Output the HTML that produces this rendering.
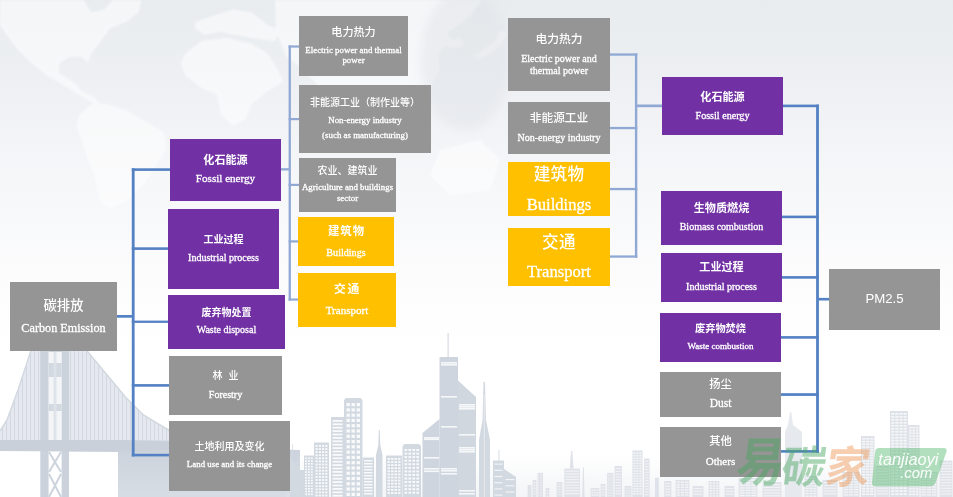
<!DOCTYPE html>
<html lang="zh-CN">
<head>
<meta charset="utf-8">
<title>碳排放 Carbon Emission / PM2.5</title>
<style>
html,body{margin:0;padding:0;}
body{width:953px;height:497px;overflow:hidden;background:#fff;position:relative;}
#stage{position:absolute;left:0;top:0;width:953px;height:497px;overflow:hidden;}
#bg{position:absolute;left:0;top:0;width:953px;height:497px;}
.b{position:absolute;}
.l{position:absolute;}
.t{position:absolute;color:#fff;text-align:center;white-space:nowrap;line-height:20px;height:20px;}
.cn{font-family:"Liberation Sans","Noto Sans CJK SC",sans-serif;font-weight:500;}
.en{font-family:"Liberation Serif","Noto Serif CJK SC",serif;-webkit-text-stroke:0.3px #fff;}
.sans{font-family:"Liberation Sans","Noto Sans CJK SC",sans-serif;}
.bold{font-weight:bold;}
</style>
</head>
<body>
<div id="stage">
<svg id="bg" width="953" height="497" viewBox="0 0 953 497">
<defs>
<linearGradient id="g1" x1="0" y1="0" x2="0" y2="1">
<stop offset="0" stop-color="#e8ecef"/>
<stop offset="0.2" stop-color="#eff1f4"/>
<stop offset="0.36" stop-color="#f6f7f9"/>
<stop offset="0.55" stop-color="#fcfcfd"/>
<stop offset="0.7" stop-color="#ffffff"/>
<stop offset="1" stop-color="#ffffff"/>
</linearGradient>
<linearGradient id="mapfade" x1="0" y1="0" x2="0" y2="1">
<stop offset="0" stop-color="#fff" stop-opacity="1"/>
<stop offset="0.7" stop-color="#fff" stop-opacity="1"/>
<stop offset="1" stop-color="#fff" stop-opacity="0"/>
</linearGradient>
<filter id="b1" x="-10%" y="-10%" width="120%" height="120%"><feGaussianBlur stdDeviation="1.2"/></filter>
<filter id="b2" x="-10%" y="-10%" width="120%" height="120%"><feGaussianBlur stdDeviation="0.6"/></filter>
<filter id="b3" x="-10%" y="-10%" width="120%" height="120%"><feGaussianBlur stdDeviation="4"/></filter>
<linearGradient id="haze" x1="0" y1="0" x2="0" y2="1">
<stop offset="0" stop-color="#c9d0da" stop-opacity="0.95"/>
<stop offset="1" stop-color="#d3d9e1" stop-opacity="0.9"/>
</linearGradient>
</defs>
<rect x="0" y="0" width="953" height="497" fill="url(#g1)"/>
<g filter="url(#b1)" fill="#ffffff" opacity="0.55">
<polygon points="0.0,0.0 83.4,0.0 91.3,12.6 103.9,9.4 113.3,0.0 141.6,0.0 138.5,12.6 125.9,22.0 110.2,28.3 100.7,40.9 91.3,53.5 88.1,63.0 81.8,56.7 69.2,56.7 59.8,63.0 58.2,72.4 67.7,78.7 75.5,83.4 81.8,91.3 94.4,97.6 100.7,103.9 94.4,103.9 78.7,94.4 63.0,85.0 47.2,75.5 31.5,63.0 18.9,50.4 6.3,34.6 0.0,25.2"/>
<polygon points="78.7,116.5 91.3,103.9 107.0,103.9 125.9,110.2 141.6,119.6 163.7,132.2 166.8,147.9 157.4,163.7 144.8,182.6 125.9,201.4 110.2,207.7 100.7,201.4 94.4,176.3 85.0,151.1 77.1,125.9"/>
<polygon points="195.2,22.0 214.0,15.7 232.9,9.4 251.8,12.6 267.5,25.2 283.3,31.5 273.8,40.9 251.8,37.8 232.9,34.6 220.3,31.5 204.6,34.6 195.2,28.3"/>
<polygon points="185.7,53.5 201.4,40.9 226.6,37.8 251.8,44.1 267.5,53.5 277.0,69.2 283.3,81.8 267.5,91.3 251.8,103.9 245.5,119.6 232.9,125.9 220.3,113.3 217.2,94.4 201.4,88.1 185.7,75.5 181.0,63.0"/>
<polygon points="275,0 481,0 472,14 458,26 447,33 452,40 461,38 463,46 455,48 444,46 438,56 440,70 432,84 424,100 418,118 410,126 400,110 392,96 380,100 372,120 364,128 352,104 340,92 322,90 304,70 286,56 276,30"/>
<polygon points="500,30 506,34 500,46 490,54 478,60 474,56 486,48 496,40"/>
<polygon points="440,150 480,140 500,160 490,190 450,195 430,175"/>
</g>
<ellipse cx="465" cy="60" rx="45" ry="70" fill="#dfe3e8" opacity="0.45" filter="url(#b3)"/>
<g filter="url(#b2)">
<polygon points="118.0,452.0 170.0,447.0 300.0,450.0 300.0,497.0 118.0,497.0" fill="url(#haze)"/>
<linearGradient id="hz2" x1="0" y1="0" x2="0" y2="1"><stop offset="0" stop-color="#dfe4ea" stop-opacity="0"/><stop offset="1" stop-color="#dfe4ea" stop-opacity="0.4"/></linearGradient>
<rect x="286" y="455" width="667" height="42" fill="url(#hz2)"/>
<rect x="527.6" y="485.0" width="3.8" height="12.0" fill="#dfe3e9"/>
<rect x="528.6" y="486.5" width="-0.0" height="1.4" fill="#fff" opacity="0.6"/>
<rect x="529.5" y="486.5" width="-0.0" height="1.4" fill="#fff" opacity="0.6"/>
<rect x="530.4" y="486.5" width="-0.0" height="1.4" fill="#fff" opacity="0.6"/>
<rect x="528.6" y="489.1" width="-0.0" height="1.4" fill="#fff" opacity="0.6"/>
<rect x="529.5" y="489.1" width="-0.0" height="1.4" fill="#fff" opacity="0.6"/>
<rect x="530.4" y="489.1" width="-0.0" height="1.4" fill="#fff" opacity="0.6"/>
<rect x="528.6" y="491.6" width="-0.0" height="1.4" fill="#fff" opacity="0.6"/>
<rect x="529.5" y="491.6" width="-0.0" height="1.4" fill="#fff" opacity="0.6"/>
<rect x="530.4" y="491.6" width="-0.0" height="1.4" fill="#fff" opacity="0.6"/>
<rect x="528.6" y="494.2" width="-0.0" height="1.4" fill="#fff" opacity="0.6"/>
<rect x="529.5" y="494.2" width="-0.0" height="1.4" fill="#fff" opacity="0.6"/>
<rect x="530.4" y="494.2" width="-0.0" height="1.4" fill="#fff" opacity="0.6"/>
<rect x="532.6" y="480.0" width="3.8" height="17.0" fill="#dfe3e9"/>
<rect x="533.6" y="482.0" width="1.8" height="1.2" fill="#fff" opacity="0.55"/>
<rect x="533.6" y="484.8" width="1.8" height="1.2" fill="#fff" opacity="0.55"/>
<rect x="533.6" y="487.6" width="1.8" height="1.2" fill="#fff" opacity="0.55"/>
<rect x="533.6" y="490.4" width="1.8" height="1.2" fill="#fff" opacity="0.55"/>
<rect x="533.6" y="493.2" width="1.8" height="1.2" fill="#fff" opacity="0.55"/>
<rect x="537.6" y="472.8" width="5.4" height="24.2" fill="#dfe3e9"/>
<rect x="538.6" y="474.3" width="0.5" height="1.4" fill="#fff" opacity="0.6"/>
<rect x="540.0" y="474.3" width="0.5" height="1.4" fill="#fff" opacity="0.6"/>
<rect x="541.5" y="474.3" width="0.5" height="1.4" fill="#fff" opacity="0.6"/>
<rect x="538.6" y="476.9" width="0.5" height="1.4" fill="#fff" opacity="0.6"/>
<rect x="540.0" y="476.9" width="0.5" height="1.4" fill="#fff" opacity="0.6"/>
<rect x="541.5" y="476.9" width="0.5" height="1.4" fill="#fff" opacity="0.6"/>
<rect x="538.6" y="479.4" width="0.5" height="1.4" fill="#fff" opacity="0.6"/>
<rect x="540.0" y="479.4" width="0.5" height="1.4" fill="#fff" opacity="0.6"/>
<rect x="541.5" y="479.4" width="0.5" height="1.4" fill="#fff" opacity="0.6"/>
<rect x="538.6" y="482.0" width="0.5" height="1.4" fill="#fff" opacity="0.6"/>
<rect x="540.0" y="482.0" width="0.5" height="1.4" fill="#fff" opacity="0.6"/>
<rect x="541.5" y="482.0" width="0.5" height="1.4" fill="#fff" opacity="0.6"/>
<rect x="538.6" y="484.6" width="0.5" height="1.4" fill="#fff" opacity="0.6"/>
<rect x="540.0" y="484.6" width="0.5" height="1.4" fill="#fff" opacity="0.6"/>
<rect x="541.5" y="484.6" width="0.5" height="1.4" fill="#fff" opacity="0.6"/>
<rect x="538.6" y="487.1" width="0.5" height="1.4" fill="#fff" opacity="0.6"/>
<rect x="540.0" y="487.1" width="0.5" height="1.4" fill="#fff" opacity="0.6"/>
<rect x="541.5" y="487.1" width="0.5" height="1.4" fill="#fff" opacity="0.6"/>
<rect x="538.6" y="489.7" width="0.5" height="1.4" fill="#fff" opacity="0.6"/>
<rect x="540.0" y="489.7" width="0.5" height="1.4" fill="#fff" opacity="0.6"/>
<rect x="541.5" y="489.7" width="0.5" height="1.4" fill="#fff" opacity="0.6"/>
<rect x="538.6" y="492.3" width="0.5" height="1.4" fill="#fff" opacity="0.6"/>
<rect x="540.0" y="492.3" width="0.5" height="1.4" fill="#fff" opacity="0.6"/>
<rect x="541.5" y="492.3" width="0.5" height="1.4" fill="#fff" opacity="0.6"/>
<rect x="538.6" y="494.9" width="0.5" height="1.4" fill="#fff" opacity="0.6"/>
<rect x="540.0" y="494.9" width="0.5" height="1.4" fill="#fff" opacity="0.6"/>
<rect x="541.5" y="494.9" width="0.5" height="1.4" fill="#fff" opacity="0.6"/>
<rect x="545.6" y="488.0" width="3.8" height="9.0" fill="#dfe3e9"/>
<rect x="546.6" y="490.0" width="1.8" height="1.2" fill="#fff" opacity="0.55"/>
<rect x="546.6" y="492.8" width="1.8" height="1.2" fill="#fff" opacity="0.55"/>
<rect x="546.6" y="495.6" width="1.8" height="1.2" fill="#fff" opacity="0.55"/>
<rect x="556.6" y="482.0" width="5.8" height="15.0" fill="#dfe3e9"/>
<rect x="557.6" y="483.5" width="0.7" height="1.4" fill="#fff" opacity="0.6"/>
<rect x="559.2" y="483.5" width="0.7" height="1.4" fill="#fff" opacity="0.6"/>
<rect x="560.7" y="483.5" width="0.7" height="1.4" fill="#fff" opacity="0.6"/>
<rect x="557.6" y="486.1" width="0.7" height="1.4" fill="#fff" opacity="0.6"/>
<rect x="559.2" y="486.1" width="0.7" height="1.4" fill="#fff" opacity="0.6"/>
<rect x="560.7" y="486.1" width="0.7" height="1.4" fill="#fff" opacity="0.6"/>
<rect x="557.6" y="488.6" width="0.7" height="1.4" fill="#fff" opacity="0.6"/>
<rect x="559.2" y="488.6" width="0.7" height="1.4" fill="#fff" opacity="0.6"/>
<rect x="560.7" y="488.6" width="0.7" height="1.4" fill="#fff" opacity="0.6"/>
<rect x="557.6" y="491.2" width="0.7" height="1.4" fill="#fff" opacity="0.6"/>
<rect x="559.2" y="491.2" width="0.7" height="1.4" fill="#fff" opacity="0.6"/>
<rect x="560.7" y="491.2" width="0.7" height="1.4" fill="#fff" opacity="0.6"/>
<rect x="557.6" y="493.8" width="0.7" height="1.4" fill="#fff" opacity="0.6"/>
<rect x="559.2" y="493.8" width="0.7" height="1.4" fill="#fff" opacity="0.6"/>
<rect x="560.7" y="493.8" width="0.7" height="1.4" fill="#fff" opacity="0.6"/>
<rect x="564.3" y="468.6" width="15.6" height="28.4" fill="#dfe3e9"/>
<rect x="565.3" y="470.6" width="13.6" height="1.2" fill="#fff" opacity="0.55"/>
<rect x="565.3" y="473.4" width="13.6" height="1.2" fill="#fff" opacity="0.55"/>
<rect x="565.3" y="476.2" width="13.6" height="1.2" fill="#fff" opacity="0.55"/>
<rect x="565.3" y="479.0" width="13.6" height="1.2" fill="#fff" opacity="0.55"/>
<rect x="565.3" y="481.8" width="13.6" height="1.2" fill="#fff" opacity="0.55"/>
<rect x="565.3" y="484.6" width="13.6" height="1.2" fill="#fff" opacity="0.55"/>
<rect x="565.3" y="487.4" width="13.6" height="1.2" fill="#fff" opacity="0.55"/>
<rect x="565.3" y="490.2" width="13.6" height="1.2" fill="#fff" opacity="0.55"/>
<rect x="565.3" y="493.0" width="13.6" height="1.2" fill="#fff" opacity="0.55"/>
<rect x="590.6" y="488.0" width="8.8" height="9.0" fill="#dfe3e9"/>
<rect x="591.6" y="489.5" width="1.7" height="1.4" fill="#fff" opacity="0.6"/>
<rect x="594.2" y="489.5" width="1.7" height="1.4" fill="#fff" opacity="0.6"/>
<rect x="596.7" y="489.5" width="1.7" height="1.4" fill="#fff" opacity="0.6"/>
<rect x="591.6" y="492.1" width="1.7" height="1.4" fill="#fff" opacity="0.6"/>
<rect x="594.2" y="492.1" width="1.7" height="1.4" fill="#fff" opacity="0.6"/>
<rect x="596.7" y="492.1" width="1.7" height="1.4" fill="#fff" opacity="0.6"/>
<rect x="591.6" y="494.6" width="1.7" height="1.4" fill="#fff" opacity="0.6"/>
<rect x="594.2" y="494.6" width="1.7" height="1.4" fill="#fff" opacity="0.6"/>
<rect x="596.7" y="494.6" width="1.7" height="1.4" fill="#fff" opacity="0.6"/>
<rect x="600.6" y="484.0" width="4.8" height="13.0" fill="#dfe3e9"/>
<rect x="601.6" y="486.0" width="2.8" height="1.2" fill="#fff" opacity="0.55"/>
<rect x="601.6" y="488.8" width="2.8" height="1.2" fill="#fff" opacity="0.55"/>
<rect x="601.6" y="491.6" width="2.8" height="1.2" fill="#fff" opacity="0.55"/>
<rect x="601.6" y="494.4" width="2.8" height="1.2" fill="#fff" opacity="0.55"/>
<rect x="607.1" y="472.8" width="6.3" height="24.2" fill="#dfe3e9"/>
<rect x="608.1" y="474.3" width="0.8" height="1.4" fill="#fff" opacity="0.6"/>
<rect x="609.8" y="474.3" width="0.8" height="1.4" fill="#fff" opacity="0.6"/>
<rect x="611.6" y="474.3" width="0.8" height="1.4" fill="#fff" opacity="0.6"/>
<rect x="608.1" y="476.9" width="0.8" height="1.4" fill="#fff" opacity="0.6"/>
<rect x="609.8" y="476.9" width="0.8" height="1.4" fill="#fff" opacity="0.6"/>
<rect x="611.6" y="476.9" width="0.8" height="1.4" fill="#fff" opacity="0.6"/>
<rect x="608.1" y="479.4" width="0.8" height="1.4" fill="#fff" opacity="0.6"/>
<rect x="609.8" y="479.4" width="0.8" height="1.4" fill="#fff" opacity="0.6"/>
<rect x="611.6" y="479.4" width="0.8" height="1.4" fill="#fff" opacity="0.6"/>
<rect x="608.1" y="482.0" width="0.8" height="1.4" fill="#fff" opacity="0.6"/>
<rect x="609.8" y="482.0" width="0.8" height="1.4" fill="#fff" opacity="0.6"/>
<rect x="611.6" y="482.0" width="0.8" height="1.4" fill="#fff" opacity="0.6"/>
<rect x="608.1" y="484.6" width="0.8" height="1.4" fill="#fff" opacity="0.6"/>
<rect x="609.8" y="484.6" width="0.8" height="1.4" fill="#fff" opacity="0.6"/>
<rect x="611.6" y="484.6" width="0.8" height="1.4" fill="#fff" opacity="0.6"/>
<rect x="608.1" y="487.1" width="0.8" height="1.4" fill="#fff" opacity="0.6"/>
<rect x="609.8" y="487.1" width="0.8" height="1.4" fill="#fff" opacity="0.6"/>
<rect x="611.6" y="487.1" width="0.8" height="1.4" fill="#fff" opacity="0.6"/>
<rect x="608.1" y="489.7" width="0.8" height="1.4" fill="#fff" opacity="0.6"/>
<rect x="609.8" y="489.7" width="0.8" height="1.4" fill="#fff" opacity="0.6"/>
<rect x="611.6" y="489.7" width="0.8" height="1.4" fill="#fff" opacity="0.6"/>
<rect x="608.1" y="492.3" width="0.8" height="1.4" fill="#fff" opacity="0.6"/>
<rect x="609.8" y="492.3" width="0.8" height="1.4" fill="#fff" opacity="0.6"/>
<rect x="611.6" y="492.3" width="0.8" height="1.4" fill="#fff" opacity="0.6"/>
<rect x="608.1" y="494.9" width="0.8" height="1.4" fill="#fff" opacity="0.6"/>
<rect x="609.8" y="494.9" width="0.8" height="1.4" fill="#fff" opacity="0.6"/>
<rect x="611.6" y="494.9" width="0.8" height="1.4" fill="#fff" opacity="0.6"/>
<rect x="614.6" y="466.0" width="7.3" height="31.0" fill="#dfe3e9"/>
<rect x="615.6" y="468.0" width="5.3" height="1.2" fill="#fff" opacity="0.55"/>
<rect x="615.6" y="470.8" width="5.3" height="1.2" fill="#fff" opacity="0.55"/>
<rect x="615.6" y="473.6" width="5.3" height="1.2" fill="#fff" opacity="0.55"/>
<rect x="615.6" y="476.4" width="5.3" height="1.2" fill="#fff" opacity="0.55"/>
<rect x="615.6" y="479.2" width="5.3" height="1.2" fill="#fff" opacity="0.55"/>
<rect x="615.6" y="482.0" width="5.3" height="1.2" fill="#fff" opacity="0.55"/>
<rect x="615.6" y="484.8" width="5.3" height="1.2" fill="#fff" opacity="0.55"/>
<rect x="615.6" y="487.6" width="5.3" height="1.2" fill="#fff" opacity="0.55"/>
<rect x="615.6" y="490.4" width="5.3" height="1.2" fill="#fff" opacity="0.55"/>
<rect x="615.6" y="493.2" width="5.3" height="1.2" fill="#fff" opacity="0.55"/>
<rect x="624.6" y="486.0" width="6.8" height="11.0" fill="#dfe3e9"/>
<rect x="625.6" y="487.5" width="1.0" height="1.4" fill="#fff" opacity="0.6"/>
<rect x="627.5" y="487.5" width="1.0" height="1.4" fill="#fff" opacity="0.6"/>
<rect x="629.4" y="487.5" width="1.0" height="1.4" fill="#fff" opacity="0.6"/>
<rect x="625.6" y="490.1" width="1.0" height="1.4" fill="#fff" opacity="0.6"/>
<rect x="627.5" y="490.1" width="1.0" height="1.4" fill="#fff" opacity="0.6"/>
<rect x="629.4" y="490.1" width="1.0" height="1.4" fill="#fff" opacity="0.6"/>
<rect x="625.6" y="492.6" width="1.0" height="1.4" fill="#fff" opacity="0.6"/>
<rect x="627.5" y="492.6" width="1.0" height="1.4" fill="#fff" opacity="0.6"/>
<rect x="629.4" y="492.6" width="1.0" height="1.4" fill="#fff" opacity="0.6"/>
<rect x="625.6" y="495.2" width="1.0" height="1.4" fill="#fff" opacity="0.6"/>
<rect x="627.5" y="495.2" width="1.0" height="1.4" fill="#fff" opacity="0.6"/>
<rect x="629.4" y="495.2" width="1.0" height="1.4" fill="#fff" opacity="0.6"/>
<rect x="644.1" y="458.5" width="5.5" height="38.5" fill="#dfe3e9"/>
<rect x="645.1" y="460.5" width="3.5" height="1.2" fill="#fff" opacity="0.55"/>
<rect x="645.1" y="463.3" width="3.5" height="1.2" fill="#fff" opacity="0.55"/>
<rect x="645.1" y="466.1" width="3.5" height="1.2" fill="#fff" opacity="0.55"/>
<rect x="645.1" y="468.9" width="3.5" height="1.2" fill="#fff" opacity="0.55"/>
<rect x="645.1" y="471.7" width="3.5" height="1.2" fill="#fff" opacity="0.55"/>
<rect x="645.1" y="474.5" width="3.5" height="1.2" fill="#fff" opacity="0.55"/>
<rect x="645.1" y="477.3" width="3.5" height="1.2" fill="#fff" opacity="0.55"/>
<rect x="645.1" y="480.1" width="3.5" height="1.2" fill="#fff" opacity="0.55"/>
<rect x="645.1" y="482.9" width="3.5" height="1.2" fill="#fff" opacity="0.55"/>
<rect x="645.1" y="485.7" width="3.5" height="1.2" fill="#fff" opacity="0.55"/>
<rect x="645.1" y="488.5" width="3.5" height="1.2" fill="#fff" opacity="0.55"/>
<rect x="645.1" y="491.3" width="3.5" height="1.2" fill="#fff" opacity="0.55"/>
<rect x="645.1" y="494.1" width="3.5" height="1.2" fill="#fff" opacity="0.55"/>
<rect x="655.0" y="477.8" width="3.8" height="19.2" fill="#dfe3e9"/>
<rect x="656.0" y="479.3" width="-0.0" height="1.4" fill="#fff" opacity="0.6"/>
<rect x="656.9" y="479.3" width="-0.0" height="1.4" fill="#fff" opacity="0.6"/>
<rect x="657.8" y="479.3" width="-0.0" height="1.4" fill="#fff" opacity="0.6"/>
<rect x="656.0" y="481.9" width="-0.0" height="1.4" fill="#fff" opacity="0.6"/>
<rect x="656.9" y="481.9" width="-0.0" height="1.4" fill="#fff" opacity="0.6"/>
<rect x="657.8" y="481.9" width="-0.0" height="1.4" fill="#fff" opacity="0.6"/>
<rect x="656.0" y="484.4" width="-0.0" height="1.4" fill="#fff" opacity="0.6"/>
<rect x="656.9" y="484.4" width="-0.0" height="1.4" fill="#fff" opacity="0.6"/>
<rect x="657.8" y="484.4" width="-0.0" height="1.4" fill="#fff" opacity="0.6"/>
<rect x="656.0" y="487.0" width="-0.0" height="1.4" fill="#fff" opacity="0.6"/>
<rect x="656.9" y="487.0" width="-0.0" height="1.4" fill="#fff" opacity="0.6"/>
<rect x="657.8" y="487.0" width="-0.0" height="1.4" fill="#fff" opacity="0.6"/>
<rect x="656.0" y="489.6" width="-0.0" height="1.4" fill="#fff" opacity="0.6"/>
<rect x="656.9" y="489.6" width="-0.0" height="1.4" fill="#fff" opacity="0.6"/>
<rect x="657.8" y="489.6" width="-0.0" height="1.4" fill="#fff" opacity="0.6"/>
<rect x="656.0" y="492.1" width="-0.0" height="1.4" fill="#fff" opacity="0.6"/>
<rect x="656.9" y="492.1" width="-0.0" height="1.4" fill="#fff" opacity="0.6"/>
<rect x="657.8" y="492.1" width="-0.0" height="1.4" fill="#fff" opacity="0.6"/>
<rect x="656.0" y="494.7" width="-0.0" height="1.4" fill="#fff" opacity="0.6"/>
<rect x="656.9" y="494.7" width="-0.0" height="1.4" fill="#fff" opacity="0.6"/>
<rect x="657.8" y="494.7" width="-0.0" height="1.4" fill="#fff" opacity="0.6"/>
<rect x="664.2" y="481.0" width="7.2" height="16.0" fill="#dfe3e9"/>
<rect x="665.2" y="483.0" width="5.2" height="1.2" fill="#fff" opacity="0.55"/>
<rect x="665.2" y="485.8" width="5.2" height="1.2" fill="#fff" opacity="0.55"/>
<rect x="665.2" y="488.6" width="5.2" height="1.2" fill="#fff" opacity="0.55"/>
<rect x="665.2" y="491.4" width="5.2" height="1.2" fill="#fff" opacity="0.55"/>
<rect x="665.2" y="494.2" width="5.2" height="1.2" fill="#fff" opacity="0.55"/>
<rect x="675.6" y="480.0" width="13.8" height="17.0" fill="#dfe3e9"/>
<rect x="676.6" y="481.5" width="3.3" height="1.4" fill="#fff" opacity="0.6"/>
<rect x="680.8" y="481.5" width="3.3" height="1.4" fill="#fff" opacity="0.6"/>
<rect x="685.1" y="481.5" width="3.3" height="1.4" fill="#fff" opacity="0.6"/>
<rect x="676.6" y="484.1" width="3.3" height="1.4" fill="#fff" opacity="0.6"/>
<rect x="680.8" y="484.1" width="3.3" height="1.4" fill="#fff" opacity="0.6"/>
<rect x="685.1" y="484.1" width="3.3" height="1.4" fill="#fff" opacity="0.6"/>
<rect x="676.6" y="486.6" width="3.3" height="1.4" fill="#fff" opacity="0.6"/>
<rect x="680.8" y="486.6" width="3.3" height="1.4" fill="#fff" opacity="0.6"/>
<rect x="685.1" y="486.6" width="3.3" height="1.4" fill="#fff" opacity="0.6"/>
<rect x="676.6" y="489.2" width="3.3" height="1.4" fill="#fff" opacity="0.6"/>
<rect x="680.8" y="489.2" width="3.3" height="1.4" fill="#fff" opacity="0.6"/>
<rect x="685.1" y="489.2" width="3.3" height="1.4" fill="#fff" opacity="0.6"/>
<rect x="676.6" y="491.8" width="3.3" height="1.4" fill="#fff" opacity="0.6"/>
<rect x="680.8" y="491.8" width="3.3" height="1.4" fill="#fff" opacity="0.6"/>
<rect x="685.1" y="491.8" width="3.3" height="1.4" fill="#fff" opacity="0.6"/>
<rect x="676.6" y="494.3" width="3.3" height="1.4" fill="#fff" opacity="0.6"/>
<rect x="680.8" y="494.3" width="3.3" height="1.4" fill="#fff" opacity="0.6"/>
<rect x="685.1" y="494.3" width="3.3" height="1.4" fill="#fff" opacity="0.6"/>
<rect x="692.6" y="486.0" width="10.8" height="11.0" fill="#dfe3e9"/>
<rect x="693.6" y="488.0" width="8.8" height="1.2" fill="#fff" opacity="0.55"/>
<rect x="693.6" y="490.8" width="8.8" height="1.2" fill="#fff" opacity="0.55"/>
<rect x="693.6" y="493.6" width="8.8" height="1.2" fill="#fff" opacity="0.55"/>
<rect x="708.6" y="481.0" width="10.8" height="16.0" fill="#dfe3e9"/>
<rect x="709.6" y="482.5" width="2.3" height="1.4" fill="#fff" opacity="0.6"/>
<rect x="712.8" y="482.5" width="2.3" height="1.4" fill="#fff" opacity="0.6"/>
<rect x="716.1" y="482.5" width="2.3" height="1.4" fill="#fff" opacity="0.6"/>
<rect x="709.6" y="485.1" width="2.3" height="1.4" fill="#fff" opacity="0.6"/>
<rect x="712.8" y="485.1" width="2.3" height="1.4" fill="#fff" opacity="0.6"/>
<rect x="716.1" y="485.1" width="2.3" height="1.4" fill="#fff" opacity="0.6"/>
<rect x="709.6" y="487.6" width="2.3" height="1.4" fill="#fff" opacity="0.6"/>
<rect x="712.8" y="487.6" width="2.3" height="1.4" fill="#fff" opacity="0.6"/>
<rect x="716.1" y="487.6" width="2.3" height="1.4" fill="#fff" opacity="0.6"/>
<rect x="709.6" y="490.2" width="2.3" height="1.4" fill="#fff" opacity="0.6"/>
<rect x="712.8" y="490.2" width="2.3" height="1.4" fill="#fff" opacity="0.6"/>
<rect x="716.1" y="490.2" width="2.3" height="1.4" fill="#fff" opacity="0.6"/>
<rect x="709.6" y="492.8" width="2.3" height="1.4" fill="#fff" opacity="0.6"/>
<rect x="712.8" y="492.8" width="2.3" height="1.4" fill="#fff" opacity="0.6"/>
<rect x="716.1" y="492.8" width="2.3" height="1.4" fill="#fff" opacity="0.6"/>
<rect x="709.6" y="495.3" width="2.3" height="1.4" fill="#fff" opacity="0.6"/>
<rect x="712.8" y="495.3" width="2.3" height="1.4" fill="#fff" opacity="0.6"/>
<rect x="716.1" y="495.3" width="2.3" height="1.4" fill="#fff" opacity="0.6"/>
<rect x="724.6" y="486.0" width="9.8" height="11.0" fill="#dfe3e9"/>
<rect x="725.6" y="488.0" width="7.8" height="1.2" fill="#fff" opacity="0.55"/>
<rect x="725.6" y="490.8" width="7.8" height="1.2" fill="#fff" opacity="0.55"/>
<rect x="725.6" y="493.6" width="7.8" height="1.2" fill="#fff" opacity="0.55"/>
<rect x="738.6" y="478.0" width="18.8" height="19.0" fill="#dfe3e9"/>
<rect x="739.6" y="479.5" width="5.0" height="1.4" fill="#fff" opacity="0.6"/>
<rect x="745.5" y="479.5" width="5.0" height="1.4" fill="#fff" opacity="0.6"/>
<rect x="751.4" y="479.5" width="5.0" height="1.4" fill="#fff" opacity="0.6"/>
<rect x="739.6" y="482.1" width="5.0" height="1.4" fill="#fff" opacity="0.6"/>
<rect x="745.5" y="482.1" width="5.0" height="1.4" fill="#fff" opacity="0.6"/>
<rect x="751.4" y="482.1" width="5.0" height="1.4" fill="#fff" opacity="0.6"/>
<rect x="739.6" y="484.6" width="5.0" height="1.4" fill="#fff" opacity="0.6"/>
<rect x="745.5" y="484.6" width="5.0" height="1.4" fill="#fff" opacity="0.6"/>
<rect x="751.4" y="484.6" width="5.0" height="1.4" fill="#fff" opacity="0.6"/>
<rect x="739.6" y="487.2" width="5.0" height="1.4" fill="#fff" opacity="0.6"/>
<rect x="745.5" y="487.2" width="5.0" height="1.4" fill="#fff" opacity="0.6"/>
<rect x="751.4" y="487.2" width="5.0" height="1.4" fill="#fff" opacity="0.6"/>
<rect x="739.6" y="489.8" width="5.0" height="1.4" fill="#fff" opacity="0.6"/>
<rect x="745.5" y="489.8" width="5.0" height="1.4" fill="#fff" opacity="0.6"/>
<rect x="751.4" y="489.8" width="5.0" height="1.4" fill="#fff" opacity="0.6"/>
<rect x="739.6" y="492.3" width="5.0" height="1.4" fill="#fff" opacity="0.6"/>
<rect x="745.5" y="492.3" width="5.0" height="1.4" fill="#fff" opacity="0.6"/>
<rect x="751.4" y="492.3" width="5.0" height="1.4" fill="#fff" opacity="0.6"/>
<rect x="739.6" y="494.9" width="5.0" height="1.4" fill="#fff" opacity="0.6"/>
<rect x="745.5" y="494.9" width="5.0" height="1.4" fill="#fff" opacity="0.6"/>
<rect x="751.4" y="494.9" width="5.0" height="1.4" fill="#fff" opacity="0.6"/>
<rect x="762.6" y="482.0" width="18.8" height="15.0" fill="#dfe3e9"/>
<rect x="763.6" y="484.0" width="16.8" height="1.2" fill="#fff" opacity="0.55"/>
<rect x="763.6" y="486.8" width="16.8" height="1.2" fill="#fff" opacity="0.55"/>
<rect x="763.6" y="489.6" width="16.8" height="1.2" fill="#fff" opacity="0.55"/>
<rect x="763.6" y="492.4" width="16.8" height="1.2" fill="#fff" opacity="0.55"/>
<rect x="763.6" y="495.2" width="16.8" height="1.2" fill="#fff" opacity="0.55"/>
<rect x="804.6" y="476.0" width="12.8" height="21.0" fill="#dfe3e9"/>
<rect x="805.6" y="477.5" width="3.0" height="1.4" fill="#fff" opacity="0.6"/>
<rect x="809.5" y="477.5" width="3.0" height="1.4" fill="#fff" opacity="0.6"/>
<rect x="813.4" y="477.5" width="3.0" height="1.4" fill="#fff" opacity="0.6"/>
<rect x="805.6" y="480.1" width="3.0" height="1.4" fill="#fff" opacity="0.6"/>
<rect x="809.5" y="480.1" width="3.0" height="1.4" fill="#fff" opacity="0.6"/>
<rect x="813.4" y="480.1" width="3.0" height="1.4" fill="#fff" opacity="0.6"/>
<rect x="805.6" y="482.6" width="3.0" height="1.4" fill="#fff" opacity="0.6"/>
<rect x="809.5" y="482.6" width="3.0" height="1.4" fill="#fff" opacity="0.6"/>
<rect x="813.4" y="482.6" width="3.0" height="1.4" fill="#fff" opacity="0.6"/>
<rect x="805.6" y="485.2" width="3.0" height="1.4" fill="#fff" opacity="0.6"/>
<rect x="809.5" y="485.2" width="3.0" height="1.4" fill="#fff" opacity="0.6"/>
<rect x="813.4" y="485.2" width="3.0" height="1.4" fill="#fff" opacity="0.6"/>
<rect x="805.6" y="487.8" width="3.0" height="1.4" fill="#fff" opacity="0.6"/>
<rect x="809.5" y="487.8" width="3.0" height="1.4" fill="#fff" opacity="0.6"/>
<rect x="813.4" y="487.8" width="3.0" height="1.4" fill="#fff" opacity="0.6"/>
<rect x="805.6" y="490.3" width="3.0" height="1.4" fill="#fff" opacity="0.6"/>
<rect x="809.5" y="490.3" width="3.0" height="1.4" fill="#fff" opacity="0.6"/>
<rect x="813.4" y="490.3" width="3.0" height="1.4" fill="#fff" opacity="0.6"/>
<rect x="805.6" y="492.9" width="3.0" height="1.4" fill="#fff" opacity="0.6"/>
<rect x="809.5" y="492.9" width="3.0" height="1.4" fill="#fff" opacity="0.6"/>
<rect x="813.4" y="492.9" width="3.0" height="1.4" fill="#fff" opacity="0.6"/>
<rect x="805.6" y="495.5" width="3.0" height="1.4" fill="#fff" opacity="0.6"/>
<rect x="809.5" y="495.5" width="3.0" height="1.4" fill="#fff" opacity="0.6"/>
<rect x="813.4" y="495.5" width="3.0" height="1.4" fill="#fff" opacity="0.6"/>
<rect x="822.6" y="480.0" width="14.8" height="17.0" fill="#dfe3e9"/>
<rect x="823.6" y="482.0" width="12.8" height="1.2" fill="#fff" opacity="0.55"/>
<rect x="823.6" y="484.8" width="12.8" height="1.2" fill="#fff" opacity="0.55"/>
<rect x="823.6" y="487.6" width="12.8" height="1.2" fill="#fff" opacity="0.55"/>
<rect x="823.6" y="490.4" width="12.8" height="1.2" fill="#fff" opacity="0.55"/>
<rect x="823.6" y="493.2" width="12.8" height="1.2" fill="#fff" opacity="0.55"/>
<rect x="842.6" y="472.0" width="16.8" height="25.0" fill="#dfe3e9"/>
<rect x="843.6" y="473.5" width="4.3" height="1.4" fill="#fff" opacity="0.6"/>
<rect x="848.8" y="473.5" width="4.3" height="1.4" fill="#fff" opacity="0.6"/>
<rect x="854.1" y="473.5" width="4.3" height="1.4" fill="#fff" opacity="0.6"/>
<rect x="843.6" y="476.1" width="4.3" height="1.4" fill="#fff" opacity="0.6"/>
<rect x="848.8" y="476.1" width="4.3" height="1.4" fill="#fff" opacity="0.6"/>
<rect x="854.1" y="476.1" width="4.3" height="1.4" fill="#fff" opacity="0.6"/>
<rect x="843.6" y="478.6" width="4.3" height="1.4" fill="#fff" opacity="0.6"/>
<rect x="848.8" y="478.6" width="4.3" height="1.4" fill="#fff" opacity="0.6"/>
<rect x="854.1" y="478.6" width="4.3" height="1.4" fill="#fff" opacity="0.6"/>
<rect x="843.6" y="481.2" width="4.3" height="1.4" fill="#fff" opacity="0.6"/>
<rect x="848.8" y="481.2" width="4.3" height="1.4" fill="#fff" opacity="0.6"/>
<rect x="854.1" y="481.2" width="4.3" height="1.4" fill="#fff" opacity="0.6"/>
<rect x="843.6" y="483.8" width="4.3" height="1.4" fill="#fff" opacity="0.6"/>
<rect x="848.8" y="483.8" width="4.3" height="1.4" fill="#fff" opacity="0.6"/>
<rect x="854.1" y="483.8" width="4.3" height="1.4" fill="#fff" opacity="0.6"/>
<rect x="843.6" y="486.3" width="4.3" height="1.4" fill="#fff" opacity="0.6"/>
<rect x="848.8" y="486.3" width="4.3" height="1.4" fill="#fff" opacity="0.6"/>
<rect x="854.1" y="486.3" width="4.3" height="1.4" fill="#fff" opacity="0.6"/>
<rect x="843.6" y="488.9" width="4.3" height="1.4" fill="#fff" opacity="0.6"/>
<rect x="848.8" y="488.9" width="4.3" height="1.4" fill="#fff" opacity="0.6"/>
<rect x="854.1" y="488.9" width="4.3" height="1.4" fill="#fff" opacity="0.6"/>
<rect x="843.6" y="491.5" width="4.3" height="1.4" fill="#fff" opacity="0.6"/>
<rect x="848.8" y="491.5" width="4.3" height="1.4" fill="#fff" opacity="0.6"/>
<rect x="854.1" y="491.5" width="4.3" height="1.4" fill="#fff" opacity="0.6"/>
<rect x="843.6" y="494.1" width="4.3" height="1.4" fill="#fff" opacity="0.6"/>
<rect x="848.8" y="494.1" width="4.3" height="1.4" fill="#fff" opacity="0.6"/>
<rect x="854.1" y="494.1" width="4.3" height="1.4" fill="#fff" opacity="0.6"/>
<rect x="875.6" y="466.0" width="13.8" height="31.0" fill="#dfe3e9"/>
<rect x="876.6" y="468.0" width="11.8" height="1.2" fill="#fff" opacity="0.55"/>
<rect x="876.6" y="470.8" width="11.8" height="1.2" fill="#fff" opacity="0.55"/>
<rect x="876.6" y="473.6" width="11.8" height="1.2" fill="#fff" opacity="0.55"/>
<rect x="876.6" y="476.4" width="11.8" height="1.2" fill="#fff" opacity="0.55"/>
<rect x="876.6" y="479.2" width="11.8" height="1.2" fill="#fff" opacity="0.55"/>
<rect x="876.6" y="482.0" width="11.8" height="1.2" fill="#fff" opacity="0.55"/>
<rect x="876.6" y="484.8" width="11.8" height="1.2" fill="#fff" opacity="0.55"/>
<rect x="876.6" y="487.6" width="11.8" height="1.2" fill="#fff" opacity="0.55"/>
<rect x="876.6" y="490.4" width="11.8" height="1.2" fill="#fff" opacity="0.55"/>
<rect x="876.6" y="493.2" width="11.8" height="1.2" fill="#fff" opacity="0.55"/>
<rect x="920.6" y="472.0" width="16.8" height="25.0" fill="#dfe3e9"/>
<rect x="921.6" y="473.5" width="4.3" height="1.4" fill="#fff" opacity="0.6"/>
<rect x="926.8" y="473.5" width="4.3" height="1.4" fill="#fff" opacity="0.6"/>
<rect x="932.1" y="473.5" width="4.3" height="1.4" fill="#fff" opacity="0.6"/>
<rect x="921.6" y="476.1" width="4.3" height="1.4" fill="#fff" opacity="0.6"/>
<rect x="926.8" y="476.1" width="4.3" height="1.4" fill="#fff" opacity="0.6"/>
<rect x="932.1" y="476.1" width="4.3" height="1.4" fill="#fff" opacity="0.6"/>
<rect x="921.6" y="478.6" width="4.3" height="1.4" fill="#fff" opacity="0.6"/>
<rect x="926.8" y="478.6" width="4.3" height="1.4" fill="#fff" opacity="0.6"/>
<rect x="932.1" y="478.6" width="4.3" height="1.4" fill="#fff" opacity="0.6"/>
<rect x="921.6" y="481.2" width="4.3" height="1.4" fill="#fff" opacity="0.6"/>
<rect x="926.8" y="481.2" width="4.3" height="1.4" fill="#fff" opacity="0.6"/>
<rect x="932.1" y="481.2" width="4.3" height="1.4" fill="#fff" opacity="0.6"/>
<rect x="921.6" y="483.8" width="4.3" height="1.4" fill="#fff" opacity="0.6"/>
<rect x="926.8" y="483.8" width="4.3" height="1.4" fill="#fff" opacity="0.6"/>
<rect x="932.1" y="483.8" width="4.3" height="1.4" fill="#fff" opacity="0.6"/>
<rect x="921.6" y="486.3" width="4.3" height="1.4" fill="#fff" opacity="0.6"/>
<rect x="926.8" y="486.3" width="4.3" height="1.4" fill="#fff" opacity="0.6"/>
<rect x="932.1" y="486.3" width="4.3" height="1.4" fill="#fff" opacity="0.6"/>
<rect x="921.6" y="488.9" width="4.3" height="1.4" fill="#fff" opacity="0.6"/>
<rect x="926.8" y="488.9" width="4.3" height="1.4" fill="#fff" opacity="0.6"/>
<rect x="932.1" y="488.9" width="4.3" height="1.4" fill="#fff" opacity="0.6"/>
<rect x="921.6" y="491.5" width="4.3" height="1.4" fill="#fff" opacity="0.6"/>
<rect x="926.8" y="491.5" width="4.3" height="1.4" fill="#fff" opacity="0.6"/>
<rect x="932.1" y="491.5" width="4.3" height="1.4" fill="#fff" opacity="0.6"/>
<rect x="921.6" y="494.1" width="4.3" height="1.4" fill="#fff" opacity="0.6"/>
<rect x="926.8" y="494.1" width="4.3" height="1.4" fill="#fff" opacity="0.6"/>
<rect x="932.1" y="494.1" width="4.3" height="1.4" fill="#fff" opacity="0.6"/>
<rect x="939.6" y="460.5" width="12.8" height="36.5" fill="#dfe3e9"/>
<rect x="940.6" y="462.5" width="10.8" height="1.2" fill="#fff" opacity="0.55"/>
<rect x="940.6" y="465.3" width="10.8" height="1.2" fill="#fff" opacity="0.55"/>
<rect x="940.6" y="468.1" width="10.8" height="1.2" fill="#fff" opacity="0.55"/>
<rect x="940.6" y="470.9" width="10.8" height="1.2" fill="#fff" opacity="0.55"/>
<rect x="940.6" y="473.7" width="10.8" height="1.2" fill="#fff" opacity="0.55"/>
<rect x="940.6" y="476.5" width="10.8" height="1.2" fill="#fff" opacity="0.55"/>
<rect x="940.6" y="479.3" width="10.8" height="1.2" fill="#fff" opacity="0.55"/>
<rect x="940.6" y="482.1" width="10.8" height="1.2" fill="#fff" opacity="0.55"/>
<rect x="940.6" y="484.9" width="10.8" height="1.2" fill="#fff" opacity="0.55"/>
<rect x="940.6" y="487.7" width="10.8" height="1.2" fill="#fff" opacity="0.55"/>
<rect x="940.6" y="490.5" width="10.8" height="1.2" fill="#fff" opacity="0.55"/>
<rect x="940.6" y="493.3" width="10.8" height="1.2" fill="#fff" opacity="0.55"/>
<polygon points="571.0,451.0 572.3,451.0 573.6,468.6 569.8,468.6" fill="#dfe3e9"/>
<polygon points="583.0,467.0 583.8,467.0 584.6,497.0 582.2,497.0" fill="#dfe3e9"/>
<polygon points="785.0,497.0 785.0,432.0 788.0,425.0 790.0,412.0 791.2,412.0 793.0,425.0 802.0,432.0 802.0,497.0" fill="#e6e9ee"/>
<rect x="861.0" y="436.0" width="13.5" height="61.0" fill="#dfe3e9"/>
<rect x="862.2" y="438.0" width="3.1" height="1.6" fill="#fff" opacity="0.7"/>
<rect x="866.2" y="438.0" width="3.1" height="1.6" fill="#fff" opacity="0.7"/>
<rect x="870.2" y="438.0" width="3.1" height="1.6" fill="#fff" opacity="0.7"/>
<rect x="862.2" y="440.8" width="3.1" height="1.6" fill="#fff" opacity="0.7"/>
<rect x="866.2" y="440.8" width="3.1" height="1.6" fill="#fff" opacity="0.7"/>
<rect x="870.2" y="440.8" width="3.1" height="1.6" fill="#fff" opacity="0.7"/>
<rect x="862.2" y="443.5" width="3.1" height="1.6" fill="#fff" opacity="0.7"/>
<rect x="866.2" y="443.5" width="3.1" height="1.6" fill="#fff" opacity="0.7"/>
<rect x="870.2" y="443.5" width="3.1" height="1.6" fill="#fff" opacity="0.7"/>
<rect x="862.2" y="446.3" width="3.1" height="1.6" fill="#fff" opacity="0.7"/>
<rect x="866.2" y="446.3" width="3.1" height="1.6" fill="#fff" opacity="0.7"/>
<rect x="870.2" y="446.3" width="3.1" height="1.6" fill="#fff" opacity="0.7"/>
<rect x="862.2" y="449.1" width="3.1" height="1.6" fill="#fff" opacity="0.7"/>
<rect x="866.2" y="449.1" width="3.1" height="1.6" fill="#fff" opacity="0.7"/>
<rect x="870.2" y="449.1" width="3.1" height="1.6" fill="#fff" opacity="0.7"/>
<rect x="862.2" y="451.8" width="3.1" height="1.6" fill="#fff" opacity="0.7"/>
<rect x="866.2" y="451.8" width="3.1" height="1.6" fill="#fff" opacity="0.7"/>
<rect x="870.2" y="451.8" width="3.1" height="1.6" fill="#fff" opacity="0.7"/>
<rect x="862.2" y="454.6" width="3.1" height="1.6" fill="#fff" opacity="0.7"/>
<rect x="866.2" y="454.6" width="3.1" height="1.6" fill="#fff" opacity="0.7"/>
<rect x="870.2" y="454.6" width="3.1" height="1.6" fill="#fff" opacity="0.7"/>
<rect x="862.2" y="457.4" width="3.1" height="1.6" fill="#fff" opacity="0.7"/>
<rect x="866.2" y="457.4" width="3.1" height="1.6" fill="#fff" opacity="0.7"/>
<rect x="870.2" y="457.4" width="3.1" height="1.6" fill="#fff" opacity="0.7"/>
<rect x="862.2" y="460.2" width="3.1" height="1.6" fill="#fff" opacity="0.7"/>
<rect x="866.2" y="460.2" width="3.1" height="1.6" fill="#fff" opacity="0.7"/>
<rect x="870.2" y="460.2" width="3.1" height="1.6" fill="#fff" opacity="0.7"/>
<rect x="862.2" y="462.9" width="3.1" height="1.6" fill="#fff" opacity="0.7"/>
<rect x="866.2" y="462.9" width="3.1" height="1.6" fill="#fff" opacity="0.7"/>
<rect x="870.2" y="462.9" width="3.1" height="1.6" fill="#fff" opacity="0.7"/>
<rect x="862.2" y="465.7" width="3.1" height="1.6" fill="#fff" opacity="0.7"/>
<rect x="866.2" y="465.7" width="3.1" height="1.6" fill="#fff" opacity="0.7"/>
<rect x="870.2" y="465.7" width="3.1" height="1.6" fill="#fff" opacity="0.7"/>
<rect x="862.2" y="468.5" width="3.1" height="1.6" fill="#fff" opacity="0.7"/>
<rect x="866.2" y="468.5" width="3.1" height="1.6" fill="#fff" opacity="0.7"/>
<rect x="870.2" y="468.5" width="3.1" height="1.6" fill="#fff" opacity="0.7"/>
<rect x="862.2" y="471.2" width="3.1" height="1.6" fill="#fff" opacity="0.7"/>
<rect x="866.2" y="471.2" width="3.1" height="1.6" fill="#fff" opacity="0.7"/>
<rect x="870.2" y="471.2" width="3.1" height="1.6" fill="#fff" opacity="0.7"/>
<rect x="862.2" y="474.0" width="3.1" height="1.6" fill="#fff" opacity="0.7"/>
<rect x="866.2" y="474.0" width="3.1" height="1.6" fill="#fff" opacity="0.7"/>
<rect x="870.2" y="474.0" width="3.1" height="1.6" fill="#fff" opacity="0.7"/>
<rect x="862.2" y="476.8" width="3.1" height="1.6" fill="#fff" opacity="0.7"/>
<rect x="866.2" y="476.8" width="3.1" height="1.6" fill="#fff" opacity="0.7"/>
<rect x="870.2" y="476.8" width="3.1" height="1.6" fill="#fff" opacity="0.7"/>
<rect x="862.2" y="479.5" width="3.1" height="1.6" fill="#fff" opacity="0.7"/>
<rect x="866.2" y="479.5" width="3.1" height="1.6" fill="#fff" opacity="0.7"/>
<rect x="870.2" y="479.5" width="3.1" height="1.6" fill="#fff" opacity="0.7"/>
<rect x="862.2" y="482.3" width="3.1" height="1.6" fill="#fff" opacity="0.7"/>
<rect x="866.2" y="482.3" width="3.1" height="1.6" fill="#fff" opacity="0.7"/>
<rect x="870.2" y="482.3" width="3.1" height="1.6" fill="#fff" opacity="0.7"/>
<rect x="862.2" y="485.1" width="3.1" height="1.6" fill="#fff" opacity="0.7"/>
<rect x="866.2" y="485.1" width="3.1" height="1.6" fill="#fff" opacity="0.7"/>
<rect x="870.2" y="485.1" width="3.1" height="1.6" fill="#fff" opacity="0.7"/>
<rect x="862.2" y="487.9" width="3.1" height="1.6" fill="#fff" opacity="0.7"/>
<rect x="866.2" y="487.9" width="3.1" height="1.6" fill="#fff" opacity="0.7"/>
<rect x="870.2" y="487.9" width="3.1" height="1.6" fill="#fff" opacity="0.7"/>
<rect x="862.2" y="490.6" width="3.1" height="1.6" fill="#fff" opacity="0.7"/>
<rect x="866.2" y="490.6" width="3.1" height="1.6" fill="#fff" opacity="0.7"/>
<rect x="870.2" y="490.6" width="3.1" height="1.6" fill="#fff" opacity="0.7"/>
<rect x="862.2" y="493.4" width="3.1" height="1.6" fill="#fff" opacity="0.7"/>
<rect x="866.2" y="493.4" width="3.1" height="1.6" fill="#fff" opacity="0.7"/>
<rect x="870.2" y="493.4" width="3.1" height="1.6" fill="#fff" opacity="0.7"/>
<rect x="890.0" y="411.0" width="18.0" height="86.0" fill="#dde2e8"/>
<rect x="891.2" y="413.0" width="3.2" height="1.8" fill="#fff" opacity="0.7"/>
<rect x="895.3" y="413.0" width="3.2" height="1.8" fill="#fff" opacity="0.7"/>
<rect x="899.5" y="413.0" width="3.2" height="1.8" fill="#fff" opacity="0.7"/>
<rect x="903.6" y="413.0" width="3.2" height="1.8" fill="#fff" opacity="0.7"/>
<rect x="891.2" y="416.0" width="3.2" height="1.8" fill="#fff" opacity="0.7"/>
<rect x="895.3" y="416.0" width="3.2" height="1.8" fill="#fff" opacity="0.7"/>
<rect x="899.5" y="416.0" width="3.2" height="1.8" fill="#fff" opacity="0.7"/>
<rect x="903.6" y="416.0" width="3.2" height="1.8" fill="#fff" opacity="0.7"/>
<rect x="891.2" y="418.9" width="3.2" height="1.8" fill="#fff" opacity="0.7"/>
<rect x="895.3" y="418.9" width="3.2" height="1.8" fill="#fff" opacity="0.7"/>
<rect x="899.5" y="418.9" width="3.2" height="1.8" fill="#fff" opacity="0.7"/>
<rect x="903.6" y="418.9" width="3.2" height="1.8" fill="#fff" opacity="0.7"/>
<rect x="891.2" y="421.9" width="3.2" height="1.8" fill="#fff" opacity="0.7"/>
<rect x="895.3" y="421.9" width="3.2" height="1.8" fill="#fff" opacity="0.7"/>
<rect x="899.5" y="421.9" width="3.2" height="1.8" fill="#fff" opacity="0.7"/>
<rect x="903.6" y="421.9" width="3.2" height="1.8" fill="#fff" opacity="0.7"/>
<rect x="891.2" y="424.9" width="3.2" height="1.8" fill="#fff" opacity="0.7"/>
<rect x="895.3" y="424.9" width="3.2" height="1.8" fill="#fff" opacity="0.7"/>
<rect x="899.5" y="424.9" width="3.2" height="1.8" fill="#fff" opacity="0.7"/>
<rect x="903.6" y="424.9" width="3.2" height="1.8" fill="#fff" opacity="0.7"/>
<rect x="891.2" y="427.9" width="3.2" height="1.8" fill="#fff" opacity="0.7"/>
<rect x="895.3" y="427.9" width="3.2" height="1.8" fill="#fff" opacity="0.7"/>
<rect x="899.5" y="427.9" width="3.2" height="1.8" fill="#fff" opacity="0.7"/>
<rect x="903.6" y="427.9" width="3.2" height="1.8" fill="#fff" opacity="0.7"/>
<rect x="891.2" y="430.8" width="3.2" height="1.8" fill="#fff" opacity="0.7"/>
<rect x="895.3" y="430.8" width="3.2" height="1.8" fill="#fff" opacity="0.7"/>
<rect x="899.5" y="430.8" width="3.2" height="1.8" fill="#fff" opacity="0.7"/>
<rect x="903.6" y="430.8" width="3.2" height="1.8" fill="#fff" opacity="0.7"/>
<rect x="891.2" y="433.8" width="3.2" height="1.8" fill="#fff" opacity="0.7"/>
<rect x="895.3" y="433.8" width="3.2" height="1.8" fill="#fff" opacity="0.7"/>
<rect x="899.5" y="433.8" width="3.2" height="1.8" fill="#fff" opacity="0.7"/>
<rect x="903.6" y="433.8" width="3.2" height="1.8" fill="#fff" opacity="0.7"/>
<rect x="891.2" y="436.8" width="3.2" height="1.8" fill="#fff" opacity="0.7"/>
<rect x="895.3" y="436.8" width="3.2" height="1.8" fill="#fff" opacity="0.7"/>
<rect x="899.5" y="436.8" width="3.2" height="1.8" fill="#fff" opacity="0.7"/>
<rect x="903.6" y="436.8" width="3.2" height="1.8" fill="#fff" opacity="0.7"/>
<rect x="891.2" y="439.7" width="3.2" height="1.8" fill="#fff" opacity="0.7"/>
<rect x="895.3" y="439.7" width="3.2" height="1.8" fill="#fff" opacity="0.7"/>
<rect x="899.5" y="439.7" width="3.2" height="1.8" fill="#fff" opacity="0.7"/>
<rect x="903.6" y="439.7" width="3.2" height="1.8" fill="#fff" opacity="0.7"/>
<rect x="891.2" y="442.7" width="3.2" height="1.8" fill="#fff" opacity="0.7"/>
<rect x="895.3" y="442.7" width="3.2" height="1.8" fill="#fff" opacity="0.7"/>
<rect x="899.5" y="442.7" width="3.2" height="1.8" fill="#fff" opacity="0.7"/>
<rect x="903.6" y="442.7" width="3.2" height="1.8" fill="#fff" opacity="0.7"/>
<rect x="891.2" y="445.7" width="3.2" height="1.8" fill="#fff" opacity="0.7"/>
<rect x="895.3" y="445.7" width="3.2" height="1.8" fill="#fff" opacity="0.7"/>
<rect x="899.5" y="445.7" width="3.2" height="1.8" fill="#fff" opacity="0.7"/>
<rect x="903.6" y="445.7" width="3.2" height="1.8" fill="#fff" opacity="0.7"/>
<rect x="891.2" y="448.6" width="3.2" height="1.8" fill="#fff" opacity="0.7"/>
<rect x="895.3" y="448.6" width="3.2" height="1.8" fill="#fff" opacity="0.7"/>
<rect x="899.5" y="448.6" width="3.2" height="1.8" fill="#fff" opacity="0.7"/>
<rect x="903.6" y="448.6" width="3.2" height="1.8" fill="#fff" opacity="0.7"/>
<rect x="891.2" y="451.6" width="3.2" height="1.8" fill="#fff" opacity="0.7"/>
<rect x="895.3" y="451.6" width="3.2" height="1.8" fill="#fff" opacity="0.7"/>
<rect x="899.5" y="451.6" width="3.2" height="1.8" fill="#fff" opacity="0.7"/>
<rect x="903.6" y="451.6" width="3.2" height="1.8" fill="#fff" opacity="0.7"/>
<rect x="891.2" y="454.6" width="3.2" height="1.8" fill="#fff" opacity="0.7"/>
<rect x="895.3" y="454.6" width="3.2" height="1.8" fill="#fff" opacity="0.7"/>
<rect x="899.5" y="454.6" width="3.2" height="1.8" fill="#fff" opacity="0.7"/>
<rect x="903.6" y="454.6" width="3.2" height="1.8" fill="#fff" opacity="0.7"/>
<rect x="891.2" y="457.6" width="3.2" height="1.8" fill="#fff" opacity="0.7"/>
<rect x="895.3" y="457.6" width="3.2" height="1.8" fill="#fff" opacity="0.7"/>
<rect x="899.5" y="457.6" width="3.2" height="1.8" fill="#fff" opacity="0.7"/>
<rect x="903.6" y="457.6" width="3.2" height="1.8" fill="#fff" opacity="0.7"/>
<rect x="891.2" y="460.5" width="3.2" height="1.8" fill="#fff" opacity="0.7"/>
<rect x="895.3" y="460.5" width="3.2" height="1.8" fill="#fff" opacity="0.7"/>
<rect x="899.5" y="460.5" width="3.2" height="1.8" fill="#fff" opacity="0.7"/>
<rect x="903.6" y="460.5" width="3.2" height="1.8" fill="#fff" opacity="0.7"/>
<rect x="891.2" y="463.5" width="3.2" height="1.8" fill="#fff" opacity="0.7"/>
<rect x="895.3" y="463.5" width="3.2" height="1.8" fill="#fff" opacity="0.7"/>
<rect x="899.5" y="463.5" width="3.2" height="1.8" fill="#fff" opacity="0.7"/>
<rect x="903.6" y="463.5" width="3.2" height="1.8" fill="#fff" opacity="0.7"/>
<rect x="891.2" y="466.5" width="3.2" height="1.8" fill="#fff" opacity="0.7"/>
<rect x="895.3" y="466.5" width="3.2" height="1.8" fill="#fff" opacity="0.7"/>
<rect x="899.5" y="466.5" width="3.2" height="1.8" fill="#fff" opacity="0.7"/>
<rect x="903.6" y="466.5" width="3.2" height="1.8" fill="#fff" opacity="0.7"/>
<rect x="891.2" y="469.4" width="3.2" height="1.8" fill="#fff" opacity="0.7"/>
<rect x="895.3" y="469.4" width="3.2" height="1.8" fill="#fff" opacity="0.7"/>
<rect x="899.5" y="469.4" width="3.2" height="1.8" fill="#fff" opacity="0.7"/>
<rect x="903.6" y="469.4" width="3.2" height="1.8" fill="#fff" opacity="0.7"/>
<rect x="891.2" y="472.4" width="3.2" height="1.8" fill="#fff" opacity="0.7"/>
<rect x="895.3" y="472.4" width="3.2" height="1.8" fill="#fff" opacity="0.7"/>
<rect x="899.5" y="472.4" width="3.2" height="1.8" fill="#fff" opacity="0.7"/>
<rect x="903.6" y="472.4" width="3.2" height="1.8" fill="#fff" opacity="0.7"/>
<rect x="891.2" y="475.4" width="3.2" height="1.8" fill="#fff" opacity="0.7"/>
<rect x="895.3" y="475.4" width="3.2" height="1.8" fill="#fff" opacity="0.7"/>
<rect x="899.5" y="475.4" width="3.2" height="1.8" fill="#fff" opacity="0.7"/>
<rect x="903.6" y="475.4" width="3.2" height="1.8" fill="#fff" opacity="0.7"/>
<rect x="891.2" y="478.3" width="3.2" height="1.8" fill="#fff" opacity="0.7"/>
<rect x="895.3" y="478.3" width="3.2" height="1.8" fill="#fff" opacity="0.7"/>
<rect x="899.5" y="478.3" width="3.2" height="1.8" fill="#fff" opacity="0.7"/>
<rect x="903.6" y="478.3" width="3.2" height="1.8" fill="#fff" opacity="0.7"/>
<rect x="891.2" y="481.3" width="3.2" height="1.8" fill="#fff" opacity="0.7"/>
<rect x="895.3" y="481.3" width="3.2" height="1.8" fill="#fff" opacity="0.7"/>
<rect x="899.5" y="481.3" width="3.2" height="1.8" fill="#fff" opacity="0.7"/>
<rect x="903.6" y="481.3" width="3.2" height="1.8" fill="#fff" opacity="0.7"/>
<rect x="891.2" y="484.3" width="3.2" height="1.8" fill="#fff" opacity="0.7"/>
<rect x="895.3" y="484.3" width="3.2" height="1.8" fill="#fff" opacity="0.7"/>
<rect x="899.5" y="484.3" width="3.2" height="1.8" fill="#fff" opacity="0.7"/>
<rect x="903.6" y="484.3" width="3.2" height="1.8" fill="#fff" opacity="0.7"/>
<rect x="891.2" y="487.3" width="3.2" height="1.8" fill="#fff" opacity="0.7"/>
<rect x="895.3" y="487.3" width="3.2" height="1.8" fill="#fff" opacity="0.7"/>
<rect x="899.5" y="487.3" width="3.2" height="1.8" fill="#fff" opacity="0.7"/>
<rect x="903.6" y="487.3" width="3.2" height="1.8" fill="#fff" opacity="0.7"/>
<rect x="891.2" y="490.2" width="3.2" height="1.8" fill="#fff" opacity="0.7"/>
<rect x="895.3" y="490.2" width="3.2" height="1.8" fill="#fff" opacity="0.7"/>
<rect x="899.5" y="490.2" width="3.2" height="1.8" fill="#fff" opacity="0.7"/>
<rect x="903.6" y="490.2" width="3.2" height="1.8" fill="#fff" opacity="0.7"/>
<rect x="891.2" y="493.2" width="3.2" height="1.8" fill="#fff" opacity="0.7"/>
<rect x="895.3" y="493.2" width="3.2" height="1.8" fill="#fff" opacity="0.7"/>
<rect x="899.5" y="493.2" width="3.2" height="1.8" fill="#fff" opacity="0.7"/>
<rect x="903.6" y="493.2" width="3.2" height="1.8" fill="#fff" opacity="0.7"/>
<rect x="908.0" y="425.0" width="11.5" height="72.0" fill="#dfe3e9"/>
<rect x="909.2" y="427.0" width="2.4" height="1.6" fill="#fff" opacity="0.7"/>
<rect x="912.5" y="427.0" width="2.4" height="1.6" fill="#fff" opacity="0.7"/>
<rect x="915.9" y="427.0" width="2.4" height="1.6" fill="#fff" opacity="0.7"/>
<rect x="909.2" y="429.8" width="2.4" height="1.6" fill="#fff" opacity="0.7"/>
<rect x="912.5" y="429.8" width="2.4" height="1.6" fill="#fff" opacity="0.7"/>
<rect x="915.9" y="429.8" width="2.4" height="1.6" fill="#fff" opacity="0.7"/>
<rect x="909.2" y="432.5" width="2.4" height="1.6" fill="#fff" opacity="0.7"/>
<rect x="912.5" y="432.5" width="2.4" height="1.6" fill="#fff" opacity="0.7"/>
<rect x="915.9" y="432.5" width="2.4" height="1.6" fill="#fff" opacity="0.7"/>
<rect x="909.2" y="435.3" width="2.4" height="1.6" fill="#fff" opacity="0.7"/>
<rect x="912.5" y="435.3" width="2.4" height="1.6" fill="#fff" opacity="0.7"/>
<rect x="915.9" y="435.3" width="2.4" height="1.6" fill="#fff" opacity="0.7"/>
<rect x="909.2" y="438.1" width="2.4" height="1.6" fill="#fff" opacity="0.7"/>
<rect x="912.5" y="438.1" width="2.4" height="1.6" fill="#fff" opacity="0.7"/>
<rect x="915.9" y="438.1" width="2.4" height="1.6" fill="#fff" opacity="0.7"/>
<rect x="909.2" y="440.8" width="2.4" height="1.6" fill="#fff" opacity="0.7"/>
<rect x="912.5" y="440.8" width="2.4" height="1.6" fill="#fff" opacity="0.7"/>
<rect x="915.9" y="440.8" width="2.4" height="1.6" fill="#fff" opacity="0.7"/>
<rect x="909.2" y="443.6" width="2.4" height="1.6" fill="#fff" opacity="0.7"/>
<rect x="912.5" y="443.6" width="2.4" height="1.6" fill="#fff" opacity="0.7"/>
<rect x="915.9" y="443.6" width="2.4" height="1.6" fill="#fff" opacity="0.7"/>
<rect x="909.2" y="446.4" width="2.4" height="1.6" fill="#fff" opacity="0.7"/>
<rect x="912.5" y="446.4" width="2.4" height="1.6" fill="#fff" opacity="0.7"/>
<rect x="915.9" y="446.4" width="2.4" height="1.6" fill="#fff" opacity="0.7"/>
<rect x="909.2" y="449.2" width="2.4" height="1.6" fill="#fff" opacity="0.7"/>
<rect x="912.5" y="449.2" width="2.4" height="1.6" fill="#fff" opacity="0.7"/>
<rect x="915.9" y="449.2" width="2.4" height="1.6" fill="#fff" opacity="0.7"/>
<rect x="909.2" y="451.9" width="2.4" height="1.6" fill="#fff" opacity="0.7"/>
<rect x="912.5" y="451.9" width="2.4" height="1.6" fill="#fff" opacity="0.7"/>
<rect x="915.9" y="451.9" width="2.4" height="1.6" fill="#fff" opacity="0.7"/>
<rect x="909.2" y="454.7" width="2.4" height="1.6" fill="#fff" opacity="0.7"/>
<rect x="912.5" y="454.7" width="2.4" height="1.6" fill="#fff" opacity="0.7"/>
<rect x="915.9" y="454.7" width="2.4" height="1.6" fill="#fff" opacity="0.7"/>
<rect x="909.2" y="457.5" width="2.4" height="1.6" fill="#fff" opacity="0.7"/>
<rect x="912.5" y="457.5" width="2.4" height="1.6" fill="#fff" opacity="0.7"/>
<rect x="915.9" y="457.5" width="2.4" height="1.6" fill="#fff" opacity="0.7"/>
<rect x="909.2" y="460.2" width="2.4" height="1.6" fill="#fff" opacity="0.7"/>
<rect x="912.5" y="460.2" width="2.4" height="1.6" fill="#fff" opacity="0.7"/>
<rect x="915.9" y="460.2" width="2.4" height="1.6" fill="#fff" opacity="0.7"/>
<rect x="909.2" y="463.0" width="2.4" height="1.6" fill="#fff" opacity="0.7"/>
<rect x="912.5" y="463.0" width="2.4" height="1.6" fill="#fff" opacity="0.7"/>
<rect x="915.9" y="463.0" width="2.4" height="1.6" fill="#fff" opacity="0.7"/>
<rect x="909.2" y="465.8" width="2.4" height="1.6" fill="#fff" opacity="0.7"/>
<rect x="912.5" y="465.8" width="2.4" height="1.6" fill="#fff" opacity="0.7"/>
<rect x="915.9" y="465.8" width="2.4" height="1.6" fill="#fff" opacity="0.7"/>
<rect x="909.2" y="468.5" width="2.4" height="1.6" fill="#fff" opacity="0.7"/>
<rect x="912.5" y="468.5" width="2.4" height="1.6" fill="#fff" opacity="0.7"/>
<rect x="915.9" y="468.5" width="2.4" height="1.6" fill="#fff" opacity="0.7"/>
<rect x="909.2" y="471.3" width="2.4" height="1.6" fill="#fff" opacity="0.7"/>
<rect x="912.5" y="471.3" width="2.4" height="1.6" fill="#fff" opacity="0.7"/>
<rect x="915.9" y="471.3" width="2.4" height="1.6" fill="#fff" opacity="0.7"/>
<rect x="909.2" y="474.1" width="2.4" height="1.6" fill="#fff" opacity="0.7"/>
<rect x="912.5" y="474.1" width="2.4" height="1.6" fill="#fff" opacity="0.7"/>
<rect x="915.9" y="474.1" width="2.4" height="1.6" fill="#fff" opacity="0.7"/>
<rect x="909.2" y="476.9" width="2.4" height="1.6" fill="#fff" opacity="0.7"/>
<rect x="912.5" y="476.9" width="2.4" height="1.6" fill="#fff" opacity="0.7"/>
<rect x="915.9" y="476.9" width="2.4" height="1.6" fill="#fff" opacity="0.7"/>
<rect x="909.2" y="479.6" width="2.4" height="1.6" fill="#fff" opacity="0.7"/>
<rect x="912.5" y="479.6" width="2.4" height="1.6" fill="#fff" opacity="0.7"/>
<rect x="915.9" y="479.6" width="2.4" height="1.6" fill="#fff" opacity="0.7"/>
<rect x="909.2" y="482.4" width="2.4" height="1.6" fill="#fff" opacity="0.7"/>
<rect x="912.5" y="482.4" width="2.4" height="1.6" fill="#fff" opacity="0.7"/>
<rect x="915.9" y="482.4" width="2.4" height="1.6" fill="#fff" opacity="0.7"/>
<rect x="909.2" y="485.2" width="2.4" height="1.6" fill="#fff" opacity="0.7"/>
<rect x="912.5" y="485.2" width="2.4" height="1.6" fill="#fff" opacity="0.7"/>
<rect x="915.9" y="485.2" width="2.4" height="1.6" fill="#fff" opacity="0.7"/>
<rect x="909.2" y="487.9" width="2.4" height="1.6" fill="#fff" opacity="0.7"/>
<rect x="912.5" y="487.9" width="2.4" height="1.6" fill="#fff" opacity="0.7"/>
<rect x="915.9" y="487.9" width="2.4" height="1.6" fill="#fff" opacity="0.7"/>
<rect x="909.2" y="490.7" width="2.4" height="1.6" fill="#fff" opacity="0.7"/>
<rect x="912.5" y="490.7" width="2.4" height="1.6" fill="#fff" opacity="0.7"/>
<rect x="915.9" y="490.7" width="2.4" height="1.6" fill="#fff" opacity="0.7"/>
<rect x="909.2" y="493.5" width="2.4" height="1.6" fill="#fff" opacity="0.7"/>
<rect x="912.5" y="493.5" width="2.4" height="1.6" fill="#fff" opacity="0.7"/>
<rect x="915.9" y="493.5" width="2.4" height="1.6" fill="#fff" opacity="0.7"/>
<rect x="632.5" y="450.5" width="10.0" height="46.5" fill="#dde2e8"/>
<rect x="633.5" y="452.5" width="2.1" height="1.5" fill="#fff" opacity="0.7"/>
<rect x="636.4" y="452.5" width="2.1" height="1.5" fill="#fff" opacity="0.7"/>
<rect x="639.4" y="452.5" width="2.1" height="1.5" fill="#fff" opacity="0.7"/>
<rect x="633.5" y="455.0" width="2.1" height="1.5" fill="#fff" opacity="0.7"/>
<rect x="636.4" y="455.0" width="2.1" height="1.5" fill="#fff" opacity="0.7"/>
<rect x="639.4" y="455.0" width="2.1" height="1.5" fill="#fff" opacity="0.7"/>
<rect x="633.5" y="457.6" width="2.1" height="1.5" fill="#fff" opacity="0.7"/>
<rect x="636.4" y="457.6" width="2.1" height="1.5" fill="#fff" opacity="0.7"/>
<rect x="639.4" y="457.6" width="2.1" height="1.5" fill="#fff" opacity="0.7"/>
<rect x="633.5" y="460.1" width="2.1" height="1.5" fill="#fff" opacity="0.7"/>
<rect x="636.4" y="460.1" width="2.1" height="1.5" fill="#fff" opacity="0.7"/>
<rect x="639.4" y="460.1" width="2.1" height="1.5" fill="#fff" opacity="0.7"/>
<rect x="633.5" y="462.7" width="2.1" height="1.5" fill="#fff" opacity="0.7"/>
<rect x="636.4" y="462.7" width="2.1" height="1.5" fill="#fff" opacity="0.7"/>
<rect x="639.4" y="462.7" width="2.1" height="1.5" fill="#fff" opacity="0.7"/>
<rect x="633.5" y="465.2" width="2.1" height="1.5" fill="#fff" opacity="0.7"/>
<rect x="636.4" y="465.2" width="2.1" height="1.5" fill="#fff" opacity="0.7"/>
<rect x="639.4" y="465.2" width="2.1" height="1.5" fill="#fff" opacity="0.7"/>
<rect x="633.5" y="467.7" width="2.1" height="1.5" fill="#fff" opacity="0.7"/>
<rect x="636.4" y="467.7" width="2.1" height="1.5" fill="#fff" opacity="0.7"/>
<rect x="639.4" y="467.7" width="2.1" height="1.5" fill="#fff" opacity="0.7"/>
<rect x="633.5" y="470.3" width="2.1" height="1.5" fill="#fff" opacity="0.7"/>
<rect x="636.4" y="470.3" width="2.1" height="1.5" fill="#fff" opacity="0.7"/>
<rect x="639.4" y="470.3" width="2.1" height="1.5" fill="#fff" opacity="0.7"/>
<rect x="633.5" y="472.8" width="2.1" height="1.5" fill="#fff" opacity="0.7"/>
<rect x="636.4" y="472.8" width="2.1" height="1.5" fill="#fff" opacity="0.7"/>
<rect x="639.4" y="472.8" width="2.1" height="1.5" fill="#fff" opacity="0.7"/>
<rect x="633.5" y="475.4" width="2.1" height="1.5" fill="#fff" opacity="0.7"/>
<rect x="636.4" y="475.4" width="2.1" height="1.5" fill="#fff" opacity="0.7"/>
<rect x="639.4" y="475.4" width="2.1" height="1.5" fill="#fff" opacity="0.7"/>
<rect x="633.5" y="477.9" width="2.1" height="1.5" fill="#fff" opacity="0.7"/>
<rect x="636.4" y="477.9" width="2.1" height="1.5" fill="#fff" opacity="0.7"/>
<rect x="639.4" y="477.9" width="2.1" height="1.5" fill="#fff" opacity="0.7"/>
<rect x="633.5" y="480.4" width="2.1" height="1.5" fill="#fff" opacity="0.7"/>
<rect x="636.4" y="480.4" width="2.1" height="1.5" fill="#fff" opacity="0.7"/>
<rect x="639.4" y="480.4" width="2.1" height="1.5" fill="#fff" opacity="0.7"/>
<rect x="633.5" y="483.0" width="2.1" height="1.5" fill="#fff" opacity="0.7"/>
<rect x="636.4" y="483.0" width="2.1" height="1.5" fill="#fff" opacity="0.7"/>
<rect x="639.4" y="483.0" width="2.1" height="1.5" fill="#fff" opacity="0.7"/>
<rect x="633.5" y="485.5" width="2.1" height="1.5" fill="#fff" opacity="0.7"/>
<rect x="636.4" y="485.5" width="2.1" height="1.5" fill="#fff" opacity="0.7"/>
<rect x="639.4" y="485.5" width="2.1" height="1.5" fill="#fff" opacity="0.7"/>
<rect x="633.5" y="488.1" width="2.1" height="1.5" fill="#fff" opacity="0.7"/>
<rect x="636.4" y="488.1" width="2.1" height="1.5" fill="#fff" opacity="0.7"/>
<rect x="639.4" y="488.1" width="2.1" height="1.5" fill="#fff" opacity="0.7"/>
<rect x="633.5" y="490.6" width="2.1" height="1.5" fill="#fff" opacity="0.7"/>
<rect x="636.4" y="490.6" width="2.1" height="1.5" fill="#fff" opacity="0.7"/>
<rect x="639.4" y="490.6" width="2.1" height="1.5" fill="#fff" opacity="0.7"/>
<rect x="633.5" y="493.1" width="2.1" height="1.5" fill="#fff" opacity="0.7"/>
<rect x="636.4" y="493.1" width="2.1" height="1.5" fill="#fff" opacity="0.7"/>
<rect x="639.4" y="493.1" width="2.1" height="1.5" fill="#fff" opacity="0.7"/>
<polygon points="290.0,497.0 290.0,455.0 297.5,473.0 297.5,497.0" fill="#d3d9e1"/>
<rect x="292.2" y="444.0" width="0.7" height="12.0" fill="#d3d9e1"/>
<rect x="297.5" y="470.0" width="6.5" height="27.0" fill="#d3d9e1"/>
<rect x="304.0" y="455.5" width="10.0" height="41.5" fill="#d3d9e1"/>
<rect x="305.2" y="457.5" width="1.9" height="1.6" fill="#fff" opacity="0.85"/>
<rect x="308.0" y="457.5" width="1.9" height="1.6" fill="#fff" opacity="0.85"/>
<rect x="310.9" y="457.5" width="1.9" height="1.6" fill="#fff" opacity="0.85"/>
<rect x="305.2" y="460.3" width="1.9" height="1.6" fill="#fff" opacity="0.85"/>
<rect x="308.0" y="460.3" width="1.9" height="1.6" fill="#fff" opacity="0.85"/>
<rect x="310.9" y="460.3" width="1.9" height="1.6" fill="#fff" opacity="0.85"/>
<rect x="305.2" y="463.0" width="1.9" height="1.6" fill="#fff" opacity="0.85"/>
<rect x="308.0" y="463.0" width="1.9" height="1.6" fill="#fff" opacity="0.85"/>
<rect x="310.9" y="463.0" width="1.9" height="1.6" fill="#fff" opacity="0.85"/>
<rect x="305.2" y="465.8" width="1.9" height="1.6" fill="#fff" opacity="0.85"/>
<rect x="308.0" y="465.8" width="1.9" height="1.6" fill="#fff" opacity="0.85"/>
<rect x="310.9" y="465.8" width="1.9" height="1.6" fill="#fff" opacity="0.85"/>
<rect x="305.2" y="468.6" width="1.9" height="1.6" fill="#fff" opacity="0.85"/>
<rect x="308.0" y="468.6" width="1.9" height="1.6" fill="#fff" opacity="0.85"/>
<rect x="310.9" y="468.6" width="1.9" height="1.6" fill="#fff" opacity="0.85"/>
<rect x="305.2" y="471.3" width="1.9" height="1.6" fill="#fff" opacity="0.85"/>
<rect x="308.0" y="471.3" width="1.9" height="1.6" fill="#fff" opacity="0.85"/>
<rect x="310.9" y="471.3" width="1.9" height="1.6" fill="#fff" opacity="0.85"/>
<rect x="305.2" y="474.1" width="1.9" height="1.6" fill="#fff" opacity="0.85"/>
<rect x="308.0" y="474.1" width="1.9" height="1.6" fill="#fff" opacity="0.85"/>
<rect x="310.9" y="474.1" width="1.9" height="1.6" fill="#fff" opacity="0.85"/>
<rect x="305.2" y="476.9" width="1.9" height="1.6" fill="#fff" opacity="0.85"/>
<rect x="308.0" y="476.9" width="1.9" height="1.6" fill="#fff" opacity="0.85"/>
<rect x="310.9" y="476.9" width="1.9" height="1.6" fill="#fff" opacity="0.85"/>
<rect x="305.2" y="479.7" width="1.9" height="1.6" fill="#fff" opacity="0.85"/>
<rect x="308.0" y="479.7" width="1.9" height="1.6" fill="#fff" opacity="0.85"/>
<rect x="310.9" y="479.7" width="1.9" height="1.6" fill="#fff" opacity="0.85"/>
<rect x="305.2" y="482.4" width="1.9" height="1.6" fill="#fff" opacity="0.85"/>
<rect x="308.0" y="482.4" width="1.9" height="1.6" fill="#fff" opacity="0.85"/>
<rect x="310.9" y="482.4" width="1.9" height="1.6" fill="#fff" opacity="0.85"/>
<rect x="305.2" y="485.2" width="1.9" height="1.6" fill="#fff" opacity="0.85"/>
<rect x="308.0" y="485.2" width="1.9" height="1.6" fill="#fff" opacity="0.85"/>
<rect x="310.9" y="485.2" width="1.9" height="1.6" fill="#fff" opacity="0.85"/>
<rect x="305.2" y="488.0" width="1.9" height="1.6" fill="#fff" opacity="0.85"/>
<rect x="308.0" y="488.0" width="1.9" height="1.6" fill="#fff" opacity="0.85"/>
<rect x="310.9" y="488.0" width="1.9" height="1.6" fill="#fff" opacity="0.85"/>
<rect x="305.2" y="490.7" width="1.9" height="1.6" fill="#fff" opacity="0.85"/>
<rect x="308.0" y="490.7" width="1.9" height="1.6" fill="#fff" opacity="0.85"/>
<rect x="310.9" y="490.7" width="1.9" height="1.6" fill="#fff" opacity="0.85"/>
<rect x="305.2" y="493.5" width="1.9" height="1.6" fill="#fff" opacity="0.85"/>
<rect x="308.0" y="493.5" width="1.9" height="1.6" fill="#fff" opacity="0.85"/>
<rect x="310.9" y="493.5" width="1.9" height="1.6" fill="#fff" opacity="0.85"/>
<rect x="314.0" y="442.5" width="15.0" height="54.5" fill="#d3d9e1"/>
<rect x="315.5" y="445.0" width="2.2" height="1.8" fill="#fff" opacity="0.85"/>
<rect x="318.8" y="445.0" width="2.2" height="1.8" fill="#fff" opacity="0.85"/>
<rect x="322.0" y="445.0" width="2.2" height="1.8" fill="#fff" opacity="0.85"/>
<rect x="325.2" y="445.0" width="2.2" height="1.8" fill="#fff" opacity="0.85"/>
<rect x="315.5" y="448.1" width="2.2" height="1.8" fill="#fff" opacity="0.85"/>
<rect x="318.8" y="448.1" width="2.2" height="1.8" fill="#fff" opacity="0.85"/>
<rect x="322.0" y="448.1" width="2.2" height="1.8" fill="#fff" opacity="0.85"/>
<rect x="325.2" y="448.1" width="2.2" height="1.8" fill="#fff" opacity="0.85"/>
<rect x="315.5" y="451.2" width="2.2" height="1.8" fill="#fff" opacity="0.85"/>
<rect x="318.8" y="451.2" width="2.2" height="1.8" fill="#fff" opacity="0.85"/>
<rect x="322.0" y="451.2" width="2.2" height="1.8" fill="#fff" opacity="0.85"/>
<rect x="325.2" y="451.2" width="2.2" height="1.8" fill="#fff" opacity="0.85"/>
<rect x="315.5" y="454.3" width="2.2" height="1.8" fill="#fff" opacity="0.85"/>
<rect x="318.8" y="454.3" width="2.2" height="1.8" fill="#fff" opacity="0.85"/>
<rect x="322.0" y="454.3" width="2.2" height="1.8" fill="#fff" opacity="0.85"/>
<rect x="325.2" y="454.3" width="2.2" height="1.8" fill="#fff" opacity="0.85"/>
<rect x="315.5" y="457.4" width="2.2" height="1.8" fill="#fff" opacity="0.85"/>
<rect x="318.8" y="457.4" width="2.2" height="1.8" fill="#fff" opacity="0.85"/>
<rect x="322.0" y="457.4" width="2.2" height="1.8" fill="#fff" opacity="0.85"/>
<rect x="325.2" y="457.4" width="2.2" height="1.8" fill="#fff" opacity="0.85"/>
<rect x="315.5" y="460.5" width="2.2" height="1.8" fill="#fff" opacity="0.85"/>
<rect x="318.8" y="460.5" width="2.2" height="1.8" fill="#fff" opacity="0.85"/>
<rect x="322.0" y="460.5" width="2.2" height="1.8" fill="#fff" opacity="0.85"/>
<rect x="325.2" y="460.5" width="2.2" height="1.8" fill="#fff" opacity="0.85"/>
<rect x="315.5" y="463.6" width="2.2" height="1.8" fill="#fff" opacity="0.85"/>
<rect x="318.8" y="463.6" width="2.2" height="1.8" fill="#fff" opacity="0.85"/>
<rect x="322.0" y="463.6" width="2.2" height="1.8" fill="#fff" opacity="0.85"/>
<rect x="325.2" y="463.6" width="2.2" height="1.8" fill="#fff" opacity="0.85"/>
<rect x="315.5" y="466.7" width="2.2" height="1.8" fill="#fff" opacity="0.85"/>
<rect x="318.8" y="466.7" width="2.2" height="1.8" fill="#fff" opacity="0.85"/>
<rect x="322.0" y="466.7" width="2.2" height="1.8" fill="#fff" opacity="0.85"/>
<rect x="325.2" y="466.7" width="2.2" height="1.8" fill="#fff" opacity="0.85"/>
<rect x="315.5" y="469.8" width="2.2" height="1.8" fill="#fff" opacity="0.85"/>
<rect x="318.8" y="469.8" width="2.2" height="1.8" fill="#fff" opacity="0.85"/>
<rect x="322.0" y="469.8" width="2.2" height="1.8" fill="#fff" opacity="0.85"/>
<rect x="325.2" y="469.8" width="2.2" height="1.8" fill="#fff" opacity="0.85"/>
<rect x="315.5" y="472.9" width="2.2" height="1.8" fill="#fff" opacity="0.85"/>
<rect x="318.8" y="472.9" width="2.2" height="1.8" fill="#fff" opacity="0.85"/>
<rect x="322.0" y="472.9" width="2.2" height="1.8" fill="#fff" opacity="0.85"/>
<rect x="325.2" y="472.9" width="2.2" height="1.8" fill="#fff" opacity="0.85"/>
<rect x="315.5" y="476.0" width="2.2" height="1.8" fill="#fff" opacity="0.85"/>
<rect x="318.8" y="476.0" width="2.2" height="1.8" fill="#fff" opacity="0.85"/>
<rect x="322.0" y="476.0" width="2.2" height="1.8" fill="#fff" opacity="0.85"/>
<rect x="325.2" y="476.0" width="2.2" height="1.8" fill="#fff" opacity="0.85"/>
<rect x="315.5" y="479.1" width="2.2" height="1.8" fill="#fff" opacity="0.85"/>
<rect x="318.8" y="479.1" width="2.2" height="1.8" fill="#fff" opacity="0.85"/>
<rect x="322.0" y="479.1" width="2.2" height="1.8" fill="#fff" opacity="0.85"/>
<rect x="325.2" y="479.1" width="2.2" height="1.8" fill="#fff" opacity="0.85"/>
<rect x="315.5" y="482.2" width="2.2" height="1.8" fill="#fff" opacity="0.85"/>
<rect x="318.8" y="482.2" width="2.2" height="1.8" fill="#fff" opacity="0.85"/>
<rect x="322.0" y="482.2" width="2.2" height="1.8" fill="#fff" opacity="0.85"/>
<rect x="325.2" y="482.2" width="2.2" height="1.8" fill="#fff" opacity="0.85"/>
<rect x="315.5" y="485.3" width="2.2" height="1.8" fill="#fff" opacity="0.85"/>
<rect x="318.8" y="485.3" width="2.2" height="1.8" fill="#fff" opacity="0.85"/>
<rect x="322.0" y="485.3" width="2.2" height="1.8" fill="#fff" opacity="0.85"/>
<rect x="325.2" y="485.3" width="2.2" height="1.8" fill="#fff" opacity="0.85"/>
<rect x="315.5" y="488.4" width="2.2" height="1.8" fill="#fff" opacity="0.85"/>
<rect x="318.8" y="488.4" width="2.2" height="1.8" fill="#fff" opacity="0.85"/>
<rect x="322.0" y="488.4" width="2.2" height="1.8" fill="#fff" opacity="0.85"/>
<rect x="325.2" y="488.4" width="2.2" height="1.8" fill="#fff" opacity="0.85"/>
<rect x="315.5" y="491.5" width="2.2" height="1.8" fill="#fff" opacity="0.85"/>
<rect x="318.8" y="491.5" width="2.2" height="1.8" fill="#fff" opacity="0.85"/>
<rect x="322.0" y="491.5" width="2.2" height="1.8" fill="#fff" opacity="0.85"/>
<rect x="325.2" y="491.5" width="2.2" height="1.8" fill="#fff" opacity="0.85"/>
<rect x="315.5" y="494.6" width="2.2" height="1.8" fill="#fff" opacity="0.85"/>
<rect x="318.8" y="494.6" width="2.2" height="1.8" fill="#fff" opacity="0.85"/>
<rect x="322.0" y="494.6" width="2.2" height="1.8" fill="#fff" opacity="0.85"/>
<rect x="325.2" y="494.6" width="2.2" height="1.8" fill="#fff" opacity="0.85"/>
<rect x="331.0" y="417.0" width="13.0" height="80.0" fill="#d3d9e1"/>
<rect x="332.5" y="420.0" width="10.0" height="1.8" fill="#fff" opacity="0.85"/>
<rect x="332.5" y="423.4" width="10.0" height="1.8" fill="#fff" opacity="0.85"/>
<rect x="332.5" y="426.8" width="10.0" height="1.8" fill="#fff" opacity="0.85"/>
<rect x="332.5" y="430.2" width="10.0" height="1.8" fill="#fff" opacity="0.85"/>
<rect x="332.5" y="433.6" width="10.0" height="1.8" fill="#fff" opacity="0.85"/>
<rect x="332.5" y="437.0" width="10.0" height="1.8" fill="#fff" opacity="0.85"/>
<rect x="332.5" y="440.4" width="10.0" height="1.8" fill="#fff" opacity="0.85"/>
<rect x="332.5" y="443.8" width="10.0" height="1.8" fill="#fff" opacity="0.85"/>
<rect x="332.5" y="447.2" width="10.0" height="1.8" fill="#fff" opacity="0.85"/>
<rect x="332.5" y="450.6" width="10.0" height="1.8" fill="#fff" opacity="0.85"/>
<rect x="332.5" y="454.0" width="10.0" height="1.8" fill="#fff" opacity="0.85"/>
<rect x="332.5" y="457.4" width="10.0" height="1.8" fill="#fff" opacity="0.85"/>
<rect x="332.5" y="460.8" width="10.0" height="1.8" fill="#fff" opacity="0.85"/>
<rect x="332.5" y="464.2" width="10.0" height="1.8" fill="#fff" opacity="0.85"/>
<rect x="332.5" y="467.6" width="10.0" height="1.8" fill="#fff" opacity="0.85"/>
<rect x="332.5" y="471.0" width="10.0" height="1.8" fill="#fff" opacity="0.85"/>
<rect x="332.5" y="474.4" width="10.0" height="1.8" fill="#fff" opacity="0.85"/>
<rect x="332.5" y="477.8" width="10.0" height="1.8" fill="#fff" opacity="0.85"/>
<rect x="332.5" y="481.2" width="10.0" height="1.8" fill="#fff" opacity="0.85"/>
<rect x="332.5" y="484.6" width="10.0" height="1.8" fill="#fff" opacity="0.85"/>
<rect x="332.5" y="488.0" width="10.0" height="1.8" fill="#fff" opacity="0.85"/>
<rect x="332.5" y="491.4" width="10.0" height="1.8" fill="#fff" opacity="0.85"/>
<rect x="332.5" y="494.8" width="10.0" height="1.8" fill="#fff" opacity="0.85"/>
<polygon points="344.0,497.0 344.0,400.0 346.0,398.0 360.5,398.0 362.5,400.0 362.5,497.0" fill="#d3d9e1"/>
<rect x="346.5" y="403.0" width="3.4" height="3.2" fill="#fff" opacity="0.85"/>
<rect x="351.5" y="403.0" width="3.4" height="3.2" fill="#fff" opacity="0.85"/>
<rect x="356.6" y="403.0" width="3.4" height="3.2" fill="#fff" opacity="0.85"/>
<rect x="346.5" y="408.3" width="3.4" height="3.2" fill="#fff" opacity="0.85"/>
<rect x="351.5" y="408.3" width="3.4" height="3.2" fill="#fff" opacity="0.85"/>
<rect x="356.6" y="408.3" width="3.4" height="3.2" fill="#fff" opacity="0.85"/>
<rect x="346.5" y="413.6" width="3.4" height="3.2" fill="#fff" opacity="0.85"/>
<rect x="351.5" y="413.6" width="3.4" height="3.2" fill="#fff" opacity="0.85"/>
<rect x="356.6" y="413.6" width="3.4" height="3.2" fill="#fff" opacity="0.85"/>
<rect x="346.5" y="418.8" width="3.4" height="3.2" fill="#fff" opacity="0.85"/>
<rect x="351.5" y="418.8" width="3.4" height="3.2" fill="#fff" opacity="0.85"/>
<rect x="356.6" y="418.8" width="3.4" height="3.2" fill="#fff" opacity="0.85"/>
<rect x="346.5" y="424.1" width="3.4" height="3.2" fill="#fff" opacity="0.85"/>
<rect x="351.5" y="424.1" width="3.4" height="3.2" fill="#fff" opacity="0.85"/>
<rect x="356.6" y="424.1" width="3.4" height="3.2" fill="#fff" opacity="0.85"/>
<rect x="346.5" y="429.4" width="3.4" height="3.2" fill="#fff" opacity="0.85"/>
<rect x="351.5" y="429.4" width="3.4" height="3.2" fill="#fff" opacity="0.85"/>
<rect x="356.6" y="429.4" width="3.4" height="3.2" fill="#fff" opacity="0.85"/>
<rect x="346.5" y="434.7" width="3.4" height="3.2" fill="#fff" opacity="0.85"/>
<rect x="351.5" y="434.7" width="3.4" height="3.2" fill="#fff" opacity="0.85"/>
<rect x="356.6" y="434.7" width="3.4" height="3.2" fill="#fff" opacity="0.85"/>
<rect x="346.5" y="440.0" width="3.4" height="3.2" fill="#fff" opacity="0.85"/>
<rect x="351.5" y="440.0" width="3.4" height="3.2" fill="#fff" opacity="0.85"/>
<rect x="356.6" y="440.0" width="3.4" height="3.2" fill="#fff" opacity="0.85"/>
<rect x="346.5" y="445.2" width="3.4" height="3.2" fill="#fff" opacity="0.85"/>
<rect x="351.5" y="445.2" width="3.4" height="3.2" fill="#fff" opacity="0.85"/>
<rect x="356.6" y="445.2" width="3.4" height="3.2" fill="#fff" opacity="0.85"/>
<rect x="346.5" y="450.5" width="3.4" height="3.2" fill="#fff" opacity="0.85"/>
<rect x="351.5" y="450.5" width="3.4" height="3.2" fill="#fff" opacity="0.85"/>
<rect x="356.6" y="450.5" width="3.4" height="3.2" fill="#fff" opacity="0.85"/>
<rect x="346.5" y="455.8" width="3.4" height="3.2" fill="#fff" opacity="0.85"/>
<rect x="351.5" y="455.8" width="3.4" height="3.2" fill="#fff" opacity="0.85"/>
<rect x="356.6" y="455.8" width="3.4" height="3.2" fill="#fff" opacity="0.85"/>
<rect x="346.5" y="461.1" width="3.4" height="3.2" fill="#fff" opacity="0.85"/>
<rect x="351.5" y="461.1" width="3.4" height="3.2" fill="#fff" opacity="0.85"/>
<rect x="356.6" y="461.1" width="3.4" height="3.2" fill="#fff" opacity="0.85"/>
<rect x="346.5" y="466.4" width="3.4" height="3.2" fill="#fff" opacity="0.85"/>
<rect x="351.5" y="466.4" width="3.4" height="3.2" fill="#fff" opacity="0.85"/>
<rect x="356.6" y="466.4" width="3.4" height="3.2" fill="#fff" opacity="0.85"/>
<rect x="346.5" y="471.6" width="3.4" height="3.2" fill="#fff" opacity="0.85"/>
<rect x="351.5" y="471.6" width="3.4" height="3.2" fill="#fff" opacity="0.85"/>
<rect x="356.6" y="471.6" width="3.4" height="3.2" fill="#fff" opacity="0.85"/>
<rect x="346.5" y="476.9" width="3.4" height="3.2" fill="#fff" opacity="0.85"/>
<rect x="351.5" y="476.9" width="3.4" height="3.2" fill="#fff" opacity="0.85"/>
<rect x="356.6" y="476.9" width="3.4" height="3.2" fill="#fff" opacity="0.85"/>
<rect x="346.5" y="482.2" width="3.4" height="3.2" fill="#fff" opacity="0.85"/>
<rect x="351.5" y="482.2" width="3.4" height="3.2" fill="#fff" opacity="0.85"/>
<rect x="356.6" y="482.2" width="3.4" height="3.2" fill="#fff" opacity="0.85"/>
<rect x="346.5" y="487.5" width="3.4" height="3.2" fill="#fff" opacity="0.85"/>
<rect x="351.5" y="487.5" width="3.4" height="3.2" fill="#fff" opacity="0.85"/>
<rect x="356.6" y="487.5" width="3.4" height="3.2" fill="#fff" opacity="0.85"/>
<rect x="346.5" y="492.8" width="3.4" height="3.2" fill="#fff" opacity="0.85"/>
<rect x="351.5" y="492.8" width="3.4" height="3.2" fill="#fff" opacity="0.85"/>
<rect x="356.6" y="492.8" width="3.4" height="3.2" fill="#fff" opacity="0.85"/>
<rect x="362.5" y="457.5" width="11.5" height="39.5" fill="#d3d9e1"/>
<rect x="364.0" y="460.0" width="8.5" height="1.5" fill="#fff" opacity="0.85"/>
<rect x="364.0" y="463.0" width="8.5" height="1.5" fill="#fff" opacity="0.85"/>
<rect x="364.0" y="466.0" width="8.5" height="1.5" fill="#fff" opacity="0.85"/>
<rect x="364.0" y="469.0" width="8.5" height="1.5" fill="#fff" opacity="0.85"/>
<rect x="364.0" y="472.0" width="8.5" height="1.5" fill="#fff" opacity="0.85"/>
<rect x="364.0" y="475.0" width="8.5" height="1.5" fill="#fff" opacity="0.85"/>
<rect x="364.0" y="478.0" width="8.5" height="1.5" fill="#fff" opacity="0.85"/>
<rect x="364.0" y="481.0" width="8.5" height="1.5" fill="#fff" opacity="0.85"/>
<rect x="364.0" y="484.0" width="8.5" height="1.5" fill="#fff" opacity="0.85"/>
<rect x="364.0" y="487.0" width="8.5" height="1.5" fill="#fff" opacity="0.85"/>
<rect x="364.0" y="490.0" width="8.5" height="1.5" fill="#fff" opacity="0.85"/>
<rect x="364.0" y="493.0" width="8.5" height="1.5" fill="#fff" opacity="0.85"/>
<polygon points="376.0,497.0 376.0,455.0 378.3,445.0 378.8,430.0 379.8,430.0 380.3,445.0 382.5,455.0 382.5,497.0" fill="#d3d9e1"/>
<rect x="386.0" y="455.5" width="16.0" height="41.5" fill="#d3d9e1"/>
<rect x="387.5" y="458.0" width="2.5" height="1.8" fill="#fff" opacity="0.85"/>
<rect x="391.0" y="458.0" width="2.5" height="1.8" fill="#fff" opacity="0.85"/>
<rect x="394.5" y="458.0" width="2.5" height="1.8" fill="#fff" opacity="0.85"/>
<rect x="398.0" y="458.0" width="2.5" height="1.8" fill="#fff" opacity="0.85"/>
<rect x="387.5" y="461.1" width="2.5" height="1.8" fill="#fff" opacity="0.85"/>
<rect x="391.0" y="461.1" width="2.5" height="1.8" fill="#fff" opacity="0.85"/>
<rect x="394.5" y="461.1" width="2.5" height="1.8" fill="#fff" opacity="0.85"/>
<rect x="398.0" y="461.1" width="2.5" height="1.8" fill="#fff" opacity="0.85"/>
<rect x="387.5" y="464.2" width="2.5" height="1.8" fill="#fff" opacity="0.85"/>
<rect x="391.0" y="464.2" width="2.5" height="1.8" fill="#fff" opacity="0.85"/>
<rect x="394.5" y="464.2" width="2.5" height="1.8" fill="#fff" opacity="0.85"/>
<rect x="398.0" y="464.2" width="2.5" height="1.8" fill="#fff" opacity="0.85"/>
<rect x="387.5" y="467.3" width="2.5" height="1.8" fill="#fff" opacity="0.85"/>
<rect x="391.0" y="467.3" width="2.5" height="1.8" fill="#fff" opacity="0.85"/>
<rect x="394.5" y="467.3" width="2.5" height="1.8" fill="#fff" opacity="0.85"/>
<rect x="398.0" y="467.3" width="2.5" height="1.8" fill="#fff" opacity="0.85"/>
<rect x="387.5" y="470.4" width="2.5" height="1.8" fill="#fff" opacity="0.85"/>
<rect x="391.0" y="470.4" width="2.5" height="1.8" fill="#fff" opacity="0.85"/>
<rect x="394.5" y="470.4" width="2.5" height="1.8" fill="#fff" opacity="0.85"/>
<rect x="398.0" y="470.4" width="2.5" height="1.8" fill="#fff" opacity="0.85"/>
<rect x="387.5" y="473.5" width="2.5" height="1.8" fill="#fff" opacity="0.85"/>
<rect x="391.0" y="473.5" width="2.5" height="1.8" fill="#fff" opacity="0.85"/>
<rect x="394.5" y="473.5" width="2.5" height="1.8" fill="#fff" opacity="0.85"/>
<rect x="398.0" y="473.5" width="2.5" height="1.8" fill="#fff" opacity="0.85"/>
<rect x="387.5" y="476.6" width="2.5" height="1.8" fill="#fff" opacity="0.85"/>
<rect x="391.0" y="476.6" width="2.5" height="1.8" fill="#fff" opacity="0.85"/>
<rect x="394.5" y="476.6" width="2.5" height="1.8" fill="#fff" opacity="0.85"/>
<rect x="398.0" y="476.6" width="2.5" height="1.8" fill="#fff" opacity="0.85"/>
<rect x="387.5" y="479.7" width="2.5" height="1.8" fill="#fff" opacity="0.85"/>
<rect x="391.0" y="479.7" width="2.5" height="1.8" fill="#fff" opacity="0.85"/>
<rect x="394.5" y="479.7" width="2.5" height="1.8" fill="#fff" opacity="0.85"/>
<rect x="398.0" y="479.7" width="2.5" height="1.8" fill="#fff" opacity="0.85"/>
<rect x="387.5" y="482.8" width="2.5" height="1.8" fill="#fff" opacity="0.85"/>
<rect x="391.0" y="482.8" width="2.5" height="1.8" fill="#fff" opacity="0.85"/>
<rect x="394.5" y="482.8" width="2.5" height="1.8" fill="#fff" opacity="0.85"/>
<rect x="398.0" y="482.8" width="2.5" height="1.8" fill="#fff" opacity="0.85"/>
<rect x="387.5" y="485.9" width="2.5" height="1.8" fill="#fff" opacity="0.85"/>
<rect x="391.0" y="485.9" width="2.5" height="1.8" fill="#fff" opacity="0.85"/>
<rect x="394.5" y="485.9" width="2.5" height="1.8" fill="#fff" opacity="0.85"/>
<rect x="398.0" y="485.9" width="2.5" height="1.8" fill="#fff" opacity="0.85"/>
<rect x="387.5" y="489.0" width="2.5" height="1.8" fill="#fff" opacity="0.85"/>
<rect x="391.0" y="489.0" width="2.5" height="1.8" fill="#fff" opacity="0.85"/>
<rect x="394.5" y="489.0" width="2.5" height="1.8" fill="#fff" opacity="0.85"/>
<rect x="398.0" y="489.0" width="2.5" height="1.8" fill="#fff" opacity="0.85"/>
<rect x="387.5" y="492.1" width="2.5" height="1.8" fill="#fff" opacity="0.85"/>
<rect x="391.0" y="492.1" width="2.5" height="1.8" fill="#fff" opacity="0.85"/>
<rect x="394.5" y="492.1" width="2.5" height="1.8" fill="#fff" opacity="0.85"/>
<rect x="398.0" y="492.1" width="2.5" height="1.8" fill="#fff" opacity="0.85"/>
<polygon points="402.5,497.0 402.5,446.0 404.5,444.0 419.0,444.0 421.0,446.0 421.0,497.0" fill="#d3d9e1"/>
<rect x="404.5" y="449.0" width="2.7" height="2.0" fill="#fff" opacity="0.85"/>
<rect x="408.4" y="449.0" width="2.7" height="2.0" fill="#fff" opacity="0.85"/>
<rect x="412.4" y="449.0" width="2.7" height="2.0" fill="#fff" opacity="0.85"/>
<rect x="416.3" y="449.0" width="2.7" height="2.0" fill="#fff" opacity="0.85"/>
<rect x="404.5" y="452.6" width="2.7" height="2.0" fill="#fff" opacity="0.85"/>
<rect x="408.4" y="452.6" width="2.7" height="2.0" fill="#fff" opacity="0.85"/>
<rect x="412.4" y="452.6" width="2.7" height="2.0" fill="#fff" opacity="0.85"/>
<rect x="416.3" y="452.6" width="2.7" height="2.0" fill="#fff" opacity="0.85"/>
<rect x="404.5" y="456.1" width="2.7" height="2.0" fill="#fff" opacity="0.85"/>
<rect x="408.4" y="456.1" width="2.7" height="2.0" fill="#fff" opacity="0.85"/>
<rect x="412.4" y="456.1" width="2.7" height="2.0" fill="#fff" opacity="0.85"/>
<rect x="416.3" y="456.1" width="2.7" height="2.0" fill="#fff" opacity="0.85"/>
<rect x="404.5" y="459.7" width="2.7" height="2.0" fill="#fff" opacity="0.85"/>
<rect x="408.4" y="459.7" width="2.7" height="2.0" fill="#fff" opacity="0.85"/>
<rect x="412.4" y="459.7" width="2.7" height="2.0" fill="#fff" opacity="0.85"/>
<rect x="416.3" y="459.7" width="2.7" height="2.0" fill="#fff" opacity="0.85"/>
<rect x="404.5" y="463.2" width="2.7" height="2.0" fill="#fff" opacity="0.85"/>
<rect x="408.4" y="463.2" width="2.7" height="2.0" fill="#fff" opacity="0.85"/>
<rect x="412.4" y="463.2" width="2.7" height="2.0" fill="#fff" opacity="0.85"/>
<rect x="416.3" y="463.2" width="2.7" height="2.0" fill="#fff" opacity="0.85"/>
<rect x="404.5" y="466.8" width="2.7" height="2.0" fill="#fff" opacity="0.85"/>
<rect x="408.4" y="466.8" width="2.7" height="2.0" fill="#fff" opacity="0.85"/>
<rect x="412.4" y="466.8" width="2.7" height="2.0" fill="#fff" opacity="0.85"/>
<rect x="416.3" y="466.8" width="2.7" height="2.0" fill="#fff" opacity="0.85"/>
<rect x="404.5" y="470.4" width="2.7" height="2.0" fill="#fff" opacity="0.85"/>
<rect x="408.4" y="470.4" width="2.7" height="2.0" fill="#fff" opacity="0.85"/>
<rect x="412.4" y="470.4" width="2.7" height="2.0" fill="#fff" opacity="0.85"/>
<rect x="416.3" y="470.4" width="2.7" height="2.0" fill="#fff" opacity="0.85"/>
<rect x="404.5" y="473.9" width="2.7" height="2.0" fill="#fff" opacity="0.85"/>
<rect x="408.4" y="473.9" width="2.7" height="2.0" fill="#fff" opacity="0.85"/>
<rect x="412.4" y="473.9" width="2.7" height="2.0" fill="#fff" opacity="0.85"/>
<rect x="416.3" y="473.9" width="2.7" height="2.0" fill="#fff" opacity="0.85"/>
<rect x="404.5" y="477.5" width="2.7" height="2.0" fill="#fff" opacity="0.85"/>
<rect x="408.4" y="477.5" width="2.7" height="2.0" fill="#fff" opacity="0.85"/>
<rect x="412.4" y="477.5" width="2.7" height="2.0" fill="#fff" opacity="0.85"/>
<rect x="416.3" y="477.5" width="2.7" height="2.0" fill="#fff" opacity="0.85"/>
<rect x="404.5" y="481.0" width="2.7" height="2.0" fill="#fff" opacity="0.85"/>
<rect x="408.4" y="481.0" width="2.7" height="2.0" fill="#fff" opacity="0.85"/>
<rect x="412.4" y="481.0" width="2.7" height="2.0" fill="#fff" opacity="0.85"/>
<rect x="416.3" y="481.0" width="2.7" height="2.0" fill="#fff" opacity="0.85"/>
<rect x="404.5" y="484.6" width="2.7" height="2.0" fill="#fff" opacity="0.85"/>
<rect x="408.4" y="484.6" width="2.7" height="2.0" fill="#fff" opacity="0.85"/>
<rect x="412.4" y="484.6" width="2.7" height="2.0" fill="#fff" opacity="0.85"/>
<rect x="416.3" y="484.6" width="2.7" height="2.0" fill="#fff" opacity="0.85"/>
<rect x="404.5" y="488.2" width="2.7" height="2.0" fill="#fff" opacity="0.85"/>
<rect x="408.4" y="488.2" width="2.7" height="2.0" fill="#fff" opacity="0.85"/>
<rect x="412.4" y="488.2" width="2.7" height="2.0" fill="#fff" opacity="0.85"/>
<rect x="416.3" y="488.2" width="2.7" height="2.0" fill="#fff" opacity="0.85"/>
<rect x="404.5" y="491.7" width="2.7" height="2.0" fill="#fff" opacity="0.85"/>
<rect x="408.4" y="491.7" width="2.7" height="2.0" fill="#fff" opacity="0.85"/>
<rect x="412.4" y="491.7" width="2.7" height="2.0" fill="#fff" opacity="0.85"/>
<rect x="416.3" y="491.7" width="2.7" height="2.0" fill="#fff" opacity="0.85"/>
<polygon points="422.5,497.0 422.5,433.0 439.5,419.0 439.5,497.0" fill="#cfd5de"/>
<rect x="439.5" y="357.0" width="18.5" height="140.0" fill="#cfd5de"/>
<rect x="447.6" y="333.0" width="1.0" height="24.0" fill="#cfd5de"/>
<polygon points="458.0,497.0 458.0,380.5 476.0,397.0 476.0,497.0" fill="#d1d7df"/>
<rect x="424.0" y="437.0" width="15.0" height="1.6" fill="#fff" opacity="0.8"/>
<rect x="424.0" y="438.5" width="15.0" height="1.6" fill="#fff" opacity="0.8"/>
<rect x="424.0" y="457.0" width="15.0" height="1.6" fill="#fff" opacity="0.8"/>
<rect x="424.0" y="468.0" width="15.0" height="1.6" fill="#fff" opacity="0.8"/>
<rect x="424.0" y="470.5" width="15.0" height="1.6" fill="#fff" opacity="0.8"/>
<rect x="441.0" y="362.0" width="16.0" height="1.6" fill="#fff" opacity="0.8"/>
<rect x="441.0" y="364.0" width="16.0" height="1.6" fill="#fff" opacity="0.8"/>
<rect x="441.0" y="396.0" width="16.0" height="1.6" fill="#fff" opacity="0.8"/>
<rect x="441.0" y="426.0" width="16.0" height="1.6" fill="#fff" opacity="0.8"/>
<rect x="441.0" y="468.0" width="16.0" height="1.6" fill="#fff" opacity="0.8"/>
<rect x="441.0" y="470.0" width="16.0" height="1.6" fill="#fff" opacity="0.8"/>
<rect x="441.0" y="473.0" width="16.0" height="1.6" fill="#fff" opacity="0.8"/>
<rect x="459.0" y="404.0" width="16.0" height="1.6" fill="#fff" opacity="0.8"/>
<rect x="459.0" y="406.0" width="16.0" height="1.6" fill="#fff" opacity="0.8"/>
<rect x="459.0" y="408.0" width="16.0" height="1.6" fill="#fff" opacity="0.8"/>
<rect x="459.0" y="434.0" width="16.0" height="1.6" fill="#fff" opacity="0.8"/>
<rect x="459.0" y="447.0" width="16.0" height="1.6" fill="#fff" opacity="0.8"/>
<rect x="459.0" y="449.0" width="16.0" height="1.6" fill="#fff" opacity="0.8"/>
<rect x="459.0" y="451.0" width="16.0" height="1.6" fill="#fff" opacity="0.8"/>
<rect x="459.0" y="490.0" width="16.0" height="1.6" fill="#fff" opacity="0.8"/>
<rect x="459.0" y="493.0" width="16.0" height="1.6" fill="#fff" opacity="0.8"/>
<polygon points="479.0,497.0 479.0,440.0 482.5,420.0 483.5,382.0 485.0,382.0 486.0,420.0 490.0,440.0 490.0,497.0" fill="#d3d9e1"/>
<rect x="483.8" y="395.0" width="0.8" height="102.0" fill="#fff" opacity="0.6"/>
<rect x="493.0" y="460.5" width="11.0" height="36.5" fill="#d3d9e1"/>
<rect x="498.5" y="450.0" width="0.9" height="11.0" fill="#d3d9e1"/>
<rect x="494.5" y="463.5" width="8.0" height="1.2" fill="#fff" opacity="0.7"/>
<rect x="494.5" y="469.7" width="8.0" height="1.2" fill="#fff" opacity="0.7"/>
<rect x="494.5" y="475.9" width="8.0" height="1.2" fill="#fff" opacity="0.7"/>
<rect x="494.5" y="482.1" width="8.0" height="1.2" fill="#fff" opacity="0.7"/>
<rect x="494.5" y="488.3" width="8.0" height="1.2" fill="#fff" opacity="0.7"/>
<rect x="494.5" y="494.5" width="8.0" height="1.2" fill="#fff" opacity="0.7"/>
<polygon points="504.0,497.0 504.0,469.0 516.0,477.0 516.0,497.0" fill="#d3d9e1"/>
<rect x="505.5" y="479.0" width="9.0" height="1.2" fill="#fff" opacity="0.7"/>
<rect x="505.5" y="485.2" width="9.0" height="1.2" fill="#fff" opacity="0.7"/>
<rect x="505.5" y="491.4" width="9.0" height="1.2" fill="#fff" opacity="0.7"/>
<polygon points="0.0,431.0 7.0,420.0 18.0,390.0 30.5,352.0 44.0,325.0 65.0,325.0 89.6,354.0 107.5,375.5 125.4,397.0 143.4,415.0 170.0,431.0 186.0,441.0 186.0,441.0 0.0,441.0" fill="#e2e6ec" opacity="0.9"/>
<rect x="2.0" y="427.9" width="1.0" height="13.1" fill="#cfd6df" opacity="0.85"/>
<rect x="6.0" y="421.6" width="1.0" height="19.4" fill="#cfd6df" opacity="0.85"/>
<rect x="10.0" y="411.8" width="1.0" height="29.2" fill="#cfd6df" opacity="0.85"/>
<rect x="14.0" y="400.9" width="1.0" height="40.1" fill="#cfd6df" opacity="0.85"/>
<rect x="18.0" y="390.0" width="1.0" height="51.0" fill="#cfd6df" opacity="0.85"/>
<rect x="22.0" y="377.8" width="1.0" height="63.2" fill="#cfd6df" opacity="0.85"/>
<rect x="26.0" y="365.7" width="1.0" height="75.3" fill="#cfd6df" opacity="0.85"/>
<rect x="30.0" y="353.5" width="1.0" height="87.5" fill="#cfd6df" opacity="0.85"/>
<rect x="34.0" y="345.0" width="1.0" height="96.0" fill="#cfd6df" opacity="0.85"/>
<rect x="38.0" y="337.0" width="1.0" height="104.0" fill="#cfd6df" opacity="0.85"/>
<rect x="42.0" y="329.0" width="1.0" height="112.0" fill="#cfd6df" opacity="0.85"/>
<rect x="66.0" y="326.2" width="1.0" height="114.8" fill="#cfd6df" opacity="0.85"/>
<rect x="70.0" y="330.9" width="1.0" height="110.1" fill="#cfd6df" opacity="0.85"/>
<rect x="74.0" y="335.6" width="1.0" height="105.4" fill="#cfd6df" opacity="0.85"/>
<rect x="78.0" y="340.3" width="1.0" height="100.7" fill="#cfd6df" opacity="0.85"/>
<rect x="82.0" y="345.0" width="1.0" height="96.0" fill="#cfd6df" opacity="0.85"/>
<rect x="86.0" y="349.8" width="1.0" height="91.2" fill="#cfd6df" opacity="0.85"/>
<rect x="90.0" y="354.5" width="1.0" height="86.5" fill="#cfd6df" opacity="0.85"/>
<rect x="94.0" y="359.3" width="1.0" height="81.7" fill="#cfd6df" opacity="0.85"/>
<rect x="98.0" y="364.1" width="1.0" height="76.9" fill="#cfd6df" opacity="0.85"/>
<rect x="102.0" y="368.9" width="1.0" height="72.1" fill="#cfd6df" opacity="0.85"/>
<rect x="106.0" y="373.7" width="1.0" height="67.3" fill="#cfd6df" opacity="0.85"/>
<rect x="110.0" y="378.5" width="1.0" height="62.5" fill="#cfd6df" opacity="0.85"/>
<rect x="114.0" y="383.3" width="1.0" height="57.7" fill="#cfd6df" opacity="0.85"/>
<rect x="118.0" y="388.1" width="1.0" height="52.9" fill="#cfd6df" opacity="0.85"/>
<rect x="122.0" y="392.9" width="1.0" height="48.1" fill="#cfd6df" opacity="0.85"/>
<rect x="126.0" y="397.6" width="1.0" height="43.4" fill="#cfd6df" opacity="0.85"/>
<rect x="130.0" y="401.6" width="1.0" height="39.4" fill="#cfd6df" opacity="0.85"/>
<rect x="134.0" y="405.6" width="1.0" height="35.4" fill="#cfd6df" opacity="0.85"/>
<rect x="138.0" y="409.6" width="1.0" height="31.4" fill="#cfd6df" opacity="0.85"/>
<rect x="142.0" y="413.6" width="1.0" height="27.4" fill="#cfd6df" opacity="0.85"/>
<rect x="146.0" y="416.6" width="1.0" height="24.4" fill="#cfd6df" opacity="0.85"/>
<rect x="150.0" y="419.0" width="1.0" height="22.0" fill="#cfd6df" opacity="0.85"/>
<rect x="154.0" y="421.4" width="1.0" height="19.6" fill="#cfd6df" opacity="0.85"/>
<rect x="158.0" y="423.8" width="1.0" height="17.2" fill="#cfd6df" opacity="0.85"/>
<rect x="162.0" y="426.2" width="1.0" height="14.8" fill="#cfd6df" opacity="0.85"/>
<rect x="166.0" y="428.6" width="1.0" height="12.4" fill="#cfd6df" opacity="0.85"/>
<rect x="170.0" y="431.0" width="1.0" height="10.0" fill="#cfd6df" opacity="0.85"/>
<rect x="174.0" y="433.5" width="1.0" height="7.5" fill="#cfd6df" opacity="0.85"/>
<rect x="178.0" y="436.0" width="1.0" height="5.0" fill="#cfd6df" opacity="0.85"/>
<rect x="182.0" y="438.5" width="1.0" height="2.5" fill="#cfd6df" opacity="0.85"/>
<polyline points="65,325 89.6,354 107.5,375.5 125.4,397 143.4,415 170,431 186,441" stroke="#d3d9e1" stroke-width="1.5" fill="none"/>
<polyline points="44,325 30.5,352 18,390 7,420 0,431" stroke="#d3d9e1" stroke-width="1.5" fill="none"/>
<rect x="40.3" y="340.0" width="8.3" height="157.0" fill="#cbd2dc"/>
<rect x="61.6" y="340.0" width="7.4" height="157.0" fill="#cbd2dc"/>
<rect x="48.6" y="340.0" width="13.0" height="101.0" fill="#f3f5f7"/>
<rect x="48.6" y="340.0" width="13.0" height="12.0" fill="#cbd2dc"/>
<rect x="48.6" y="363.0" width="13.0" height="14.0" fill="#d3d9e1"/>
<rect x="48.6" y="404.0" width="13.0" height="7.0" fill="#d3d9e1"/>
<rect x="53.5" y="352.0" width="3.0" height="89.0" fill="#dde2e8" opacity="0.9"/>
<path d="M49,452 L61,472 M61,452 L49,472 M49,474 L61,497 M61,474 L49,497" stroke="#cdd4dd" stroke-width="2" fill="none"/>
<polygon points="0.0,440.0 120.0,440.0 186.0,441.0 186.0,449.0 120.0,452.0 0.0,451.0" fill="#c9d0da"/>
</g>
</svg>
<svg id="lines" width="953" height="497" viewBox="0 0 953 497" style="position:absolute;left:0;top:0">
<rect x="131.8" y="168.3" width="2.8" height="288.1" fill="#5381c3"/>
<rect x="131.8" y="168.3" width="38.2" height="2.6" fill="#5381c3"/>
<rect x="131.8" y="247.3" width="36.2" height="2.6" fill="#5381c3"/>
<rect x="131.8" y="320.6" width="36.2" height="2.3" fill="#5381c3"/>
<rect x="131.8" y="384.1" width="37.2" height="2.6" fill="#5381c3"/>
<rect x="131.8" y="453.8" width="37.2" height="2.6" fill="#5381c3"/>
<rect x="117" y="315" width="16" height="2.7" fill="#5381c3"/>
<rect x="288.6" y="45.5" width="2.3" height="255.1" fill="#8fa8d4"/>
<rect x="288.6" y="45.4" width="10.4" height="2.2" fill="#8fa8d4"/>
<rect x="288.6" y="118" width="10.4" height="2.2" fill="#8fa8d4"/>
<rect x="288.6" y="183.8" width="10.4" height="2.2" fill="#8fa8d4"/>
<rect x="288.6" y="240.3" width="9.4" height="2.2" fill="#8fa8d4"/>
<rect x="288.6" y="298.5" width="9.4" height="2.1" fill="#8fa8d4"/>
<rect x="281" y="168.2" width="8" height="2.3" fill="#8fa8d4"/>
<rect x="634.9" y="53.4" width="2.4" height="204.3" fill="#8fa8d4"/>
<rect x="610" y="53.4" width="27.3" height="2.3" fill="#8fa8d4"/>
<rect x="610" y="126.9" width="27.3" height="2.3" fill="#8fa8d4"/>
<rect x="610" y="187.9" width="27.3" height="2.3" fill="#8fa8d4"/>
<rect x="610" y="255.4" width="27.3" height="2.3" fill="#8fa8d4"/>
<rect x="637" y="104.5" width="25" height="2.7" fill="#8fa8d4"/>
<rect x="816.1" y="104.6" width="2.8" height="348.1" fill="#5381c3"/>
<rect x="783" y="104.6" width="35.9" height="2.6" fill="#5381c3"/>
<rect x="782" y="215.6" width="36.9" height="2.6" fill="#5381c3"/>
<rect x="782" y="276.1" width="36.9" height="2.6" fill="#5381c3"/>
<rect x="781" y="336.1" width="37.9" height="2.6" fill="#5381c3"/>
<rect x="781" y="393.2" width="37.9" height="2.7" fill="#5381c3"/>
<rect x="781" y="450.1" width="37.9" height="2.6" fill="#5381c3"/>
<rect x="818" y="297.9" width="11" height="2.6" fill="#5381c3"/>
</svg>
<div class="b" style="left:10px;top:282px;width:107px;height:68.5px;background:#959595"></div>
<div class="t cn" style="left:-36.5px;top:295.5px;width:200px;font-size:13.3px;">碳排放</div>
<div class="t en" style="left:-36.5px;top:318px;width:200px;font-size:12.2px;">Carbon Emission</div>
<div class="b" style="left:170px;top:139px;width:111px;height:62px;background:#7131a4"></div>
<div class="t cn bold" style="left:125.5px;top:149.5px;width:200px;font-size:11.1px;">化石能源</div>
<div class="t en" style="left:125.5px;top:168.4px;width:200px;font-size:11.1px;">Fossil energy</div>
<div class="b" style="left:168px;top:209px;width:111px;height:80px;background:#7131a4"></div>
<div class="t cn bold" style="left:123.5px;top:230px;width:200px;font-size:10px;">工业过程</div>
<div class="t en" style="left:123.5px;top:247.7px;width:200px;font-size:10px;">Industrial process</div>
<div class="b" style="left:168px;top:295px;width:117px;height:54px;background:#7131a4"></div>
<div class="t cn bold" style="left:126.5px;top:303px;width:200px;font-size:10px;">废弃物处置</div>
<div class="t en" style="left:126.5px;top:320.4px;width:200px;font-size:10px;">Waste disposal</div>
<div class="b" style="left:169px;top:356px;width:113px;height:58.5px;background:#959595"></div>
<div class="t cn" style="left:125.5px;top:365.5px;width:200px;font-size:10px;word-spacing:3px;">林 业</div>
<div class="t en" style="left:125.5px;top:385px;width:200px;font-size:10px;">Forestry</div>
<div class="b" style="left:169px;top:421px;width:121px;height:70px;background:#959595"></div>
<div class="t cn" style="left:129.5px;top:437.3px;width:200px;font-size:10px;">土地利用及变化</div>
<div class="t en" style="left:129.5px;top:453.7px;width:200px;font-size:8.9px;">Land use and its change</div>
<div class="b" style="left:299px;top:16px;width:109px;height:60px;background:#959595"></div>
<div class="t cn" style="left:253.5px;top:21.8px;width:200px;font-size:11.1px;">电力热力</div>
<div class="t en" style="left:253.5px;top:40.2px;width:200px;font-size:8.9px;">Electric power and thermal</div>
<div class="t en" style="left:253.5px;top:50.2px;width:200px;font-size:8.9px;">power</div>
<div class="b" style="left:299px;top:85px;width:132px;height:68px;background:#959595"></div>
<div class="t cn" style="left:264.9px;top:92.8px;width:200px;font-size:10px;">非能源工业（制作业等）</div>
<div class="t en" style="left:265px;top:109.8px;width:200px;font-size:8.9px;">Non-energy industry</div>
<div class="t en" style="left:265px;top:124.5px;width:200px;font-size:8.9px;">(such as manufacturing)</div>
<div class="b" style="left:299px;top:158px;width:97px;height:54px;background:#959595"></div>
<div class="t cn" style="left:247.5px;top:161px;width:200px;font-size:10px;">农业、建筑业</div>
<div class="t en" style="left:247.5px;top:177.4px;width:200px;font-size:8.9px;">Agriculture and buildings</div>
<div class="t en" style="left:247.5px;top:188.4px;width:200px;font-size:8.9px;">sector</div>
<div class="b" style="left:298px;top:217px;width:96px;height:49px;background:#ffc000"></div>
<div class="t cn bold" style="left:246.5px;top:221px;width:200px;font-size:11.4px;letter-spacing:1px;">建筑物</div>
<div class="t en" style="left:246px;top:243px;width:200px;font-size:10.1px;">Buildings</div>
<div class="b" style="left:298px;top:273px;width:98px;height:54px;background:#ffc000"></div>
<div class="t cn bold" style="left:247.5px;top:278.7px;width:200px;font-size:11.8px;letter-spacing:1.6px;">交通</div>
<div class="t en" style="left:247px;top:299.5px;width:200px;font-size:11.1px;">Transport</div>
<div class="b" style="left:508px;top:18px;width:102px;height:73px;background:#959595"></div>
<div class="t cn" style="left:459px;top:28.6px;width:200px;font-size:11.8px;">电力热力</div>
<div class="t en" style="left:459px;top:49px;width:200px;font-size:10px;">Electric power and</div>
<div class="t en" style="left:459px;top:61px;width:200px;font-size:10px;">thermal power</div>
<div class="b" style="left:508px;top:102px;width:102px;height:52px;background:#959595"></div>
<div class="t cn" style="left:459px;top:107.5px;width:200px;font-size:11.7px;">非能源工业</div>
<div class="t en" style="left:459px;top:127.5px;width:200px;font-size:10px;">Non-energy industry</div>
<div class="b" style="left:508px;top:162px;width:102px;height:54px;background:#ffc000"></div>
<div class="t cn" style="left:459px;top:165px;width:200px;font-size:16.6px;letter-spacing:0.3px;">建筑物</div>
<div class="t en" style="left:459px;top:194.5px;width:200px;font-size:16.6px;">Buildings</div>
<div class="b" style="left:508px;top:228px;width:102px;height:58px;background:#ffc000"></div>
<div class="t cn" style="left:459px;top:232.5px;width:200px;font-size:16.6px;letter-spacing:0.3px;">交通</div>
<div class="t en" style="left:459px;top:261.7px;width:200px;font-size:16.6px;">Transport</div>
<div class="b" style="left:662px;top:77px;width:121px;height:58px;background:#7131a4"></div>
<div class="t cn bold" style="left:622.5px;top:86.5px;width:200px;font-size:11.1px;">化石能源</div>
<div class="t en" style="left:622.5px;top:105.5px;width:200px;font-size:10.1px;">Fossil energy</div>
<div class="b" style="left:661px;top:190.5px;width:121px;height:54px;background:#7131a4"></div>
<div class="t cn bold" style="left:621.5px;top:197.5px;width:200px;font-size:11.1px;">生物质燃烧</div>
<div class="t en" style="left:621.5px;top:216.7px;width:200px;font-size:10px;">Biomass combustion</div>
<div class="b" style="left:661px;top:253px;width:121px;height:49px;background:#7131a4"></div>
<div class="t cn bold" style="left:621.5px;top:257px;width:200px;font-size:11.1px;">工业过程</div>
<div class="t en" style="left:621.5px;top:276.7px;width:200px;font-size:10px;">Industrial process</div>
<div class="b" style="left:660px;top:313px;width:121px;height:49px;background:#7131a4"></div>
<div class="t cn bold" style="left:620.5px;top:318.7px;width:200px;font-size:10.2px;">废弃物焚烧</div>
<div class="t en" style="left:620.5px;top:335.7px;width:200px;font-size:9px;">Waste combustion</div>
<div class="b" style="left:660px;top:372px;width:121px;height:45px;background:#959595"></div>
<div class="t cn" style="left:620.5px;top:373.5px;width:200px;font-size:11.3px;">扬尘</div>
<div class="t en" style="left:620.5px;top:393.2px;width:200px;font-size:11.5px;">Dust</div>
<div class="b" style="left:660px;top:427px;width:121px;height:50px;background:#959595"></div>
<div class="t cn" style="left:620.5px;top:430.7px;width:200px;font-size:11.3px;">其他</div>
<div class="t en" style="left:620.5px;top:450.5px;width:200px;font-size:11.1px;">Others</div>
<div class="b" style="left:829px;top:269px;width:111px;height:60.5px;background:#959595"></div>
<div class="t sans" style="left:784.5px;top:289px;width:200px;font-size:13.2px;">PM2.5</div>
<div id="wm" style="position:absolute;left:0;top:0;width:953px;height:497px;pointer-events:none;">
<div style="position:absolute;left:732px;top:435px;width:50px;height:64px;line-height:64px;font-family:'Liberation Sans','Noto Sans CJK SC',sans-serif;font-weight:700;font-size:47px;white-space:nowrap;opacity:0.45;color:#45a55e;transform:skewX(-8deg) scale(1.02,1.12);transform-origin:0 100%;">易</div>
<div style="position:absolute;left:778px;top:440px;width:100px;height:56px;line-height:56px;font-family:'Liberation Sans','Noto Sans CJK SC',sans-serif;font-weight:700;font-size:44px;letter-spacing:0px;white-space:nowrap;opacity:0.45;transform:skewX(-8deg);transform-origin:0 100%;"><span style="color:#45a55e;">碳</span><span style="color:#ee9350;">家</span></div>
<svg width="953" height="497" viewBox="0 0 953 497" style="position:absolute;left:0;top:0;">
<path d="M879,448 H943.5 Q947.8,448 946.4,452 L935.6,482.5 Q934.3,486.2 930.3,486.2 H875.2 Q871.6,486.2 872,482.5 L875.2,451.5 Q875.6,448 879,448 Z" fill="#5fbd76" opacity="0.48"/>
<text x="908.4" y="465.1" text-anchor="middle" font-family="'Liberation Sans',sans-serif" font-style="italic" font-size="16.4" fill="#ffffff" fill-opacity="0.95">tanjiaoyi</text>
<text x="916.3" y="477.7" text-anchor="middle" font-family="'Liberation Sans',sans-serif" font-style="italic" font-size="14.8" fill="#ffffff" fill-opacity="0.95">.com</text>
</svg>
</div>
</div>
</body>
</html>
